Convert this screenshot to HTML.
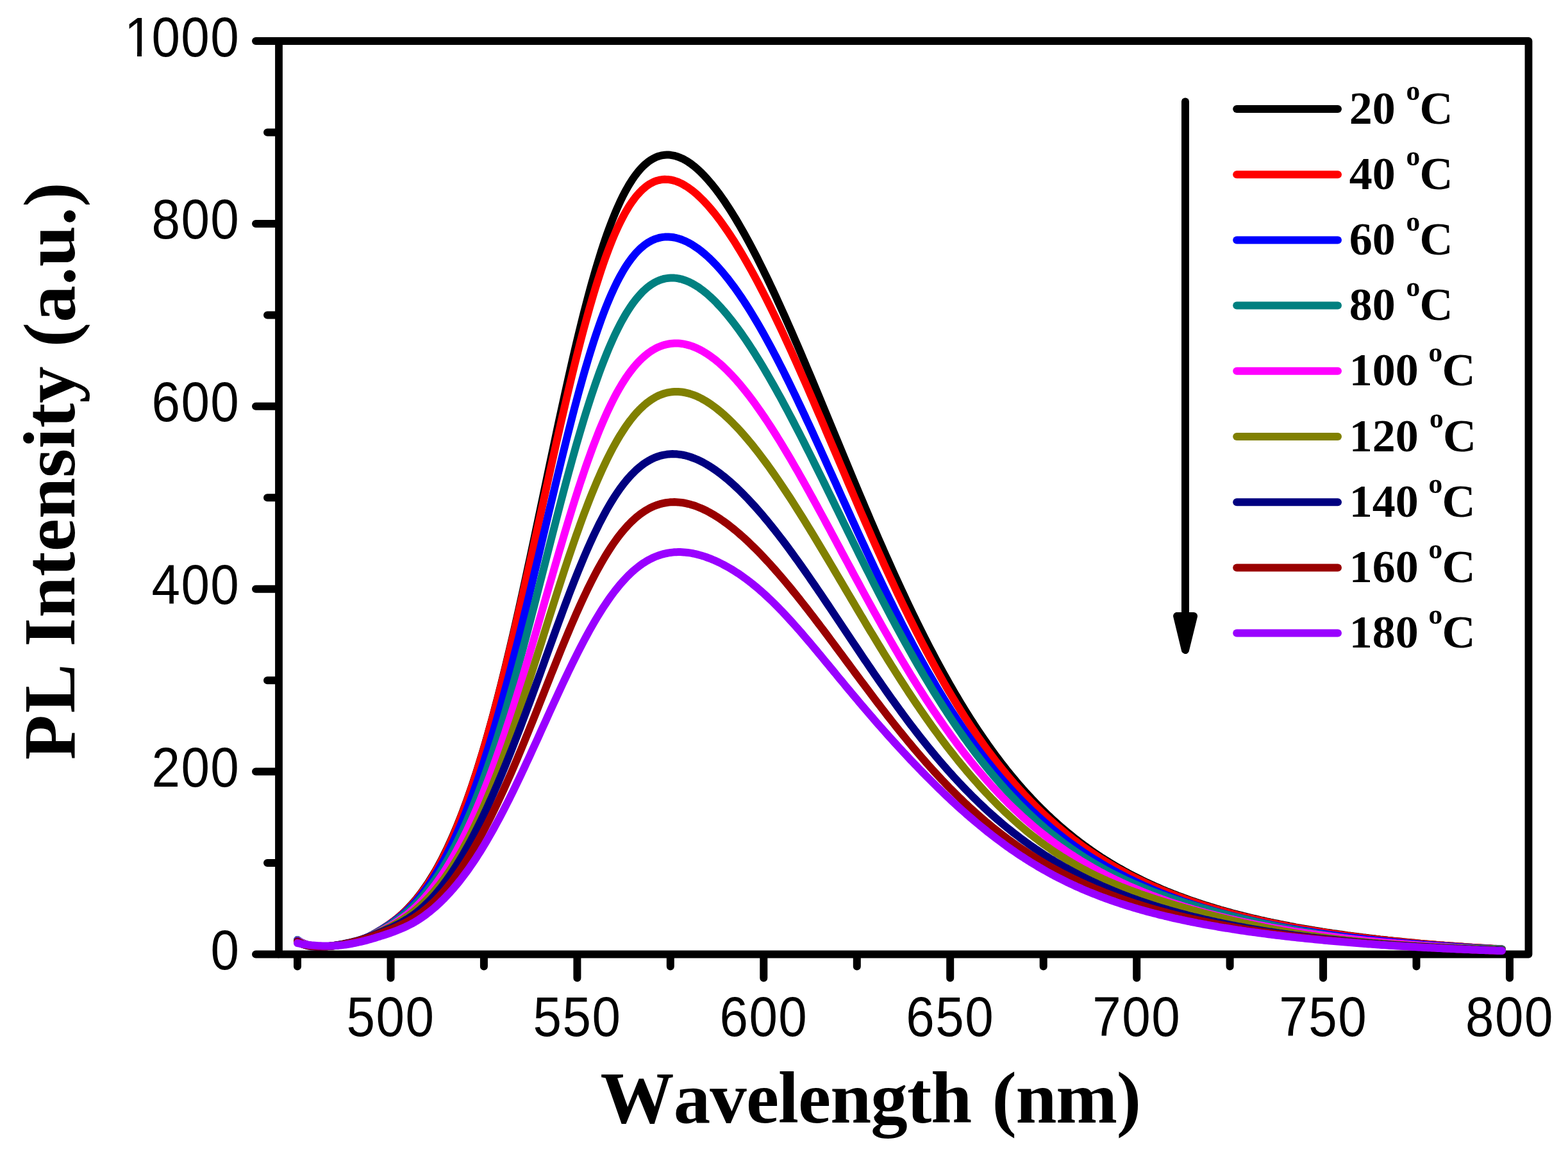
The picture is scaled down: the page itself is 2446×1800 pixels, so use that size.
<!DOCTYPE html>
<html lang="en"><head><meta charset="utf-8"><title>Temperature-dependent PL spectra</title>
<style>html,body{margin:0;padding:0;background:#fff;}svg{display:block;}text{font-kerning:none;fill:#000;white-space:pre;}.tk{font-family:"Liberation Sans",sans-serif;font-size:80px;letter-spacing:1.5px;}.ttl{font-family:"Liberation Serif",serif;font-weight:bold;font-size:115px;}.lg{font-family:"Liberation Serif",serif;font-weight:bold;font-size:72px;}.sup{font-size:43.5px;}</style></head><body>
<svg width="2446" height="1800" viewBox="0 0 2446 1800">
<rect width="2446" height="1800" fill="#fff"/>
<g stroke="#000" stroke-width="12" stroke-linecap="round" stroke-linejoin="round" fill="none">
<path d="M435.0,64.0H2384.5V1488.5H435.0Z" stroke-width="11.8"/>
<path d="M399,1488.5H434.0M417,1346H434.0M399,1203.6H434.0M417,1061.2H434.0M399,918.7H434.0M417,776.2H434.0M399,633.8H434.0M417,491.4H434.0M399,348.9H434.0M417,206.5H434.0M399,64H434.0M464,1489.5V1507.5M609.5,1489.5V1525.5M754.9,1489.5V1507.5M900.4,1489.5V1525.5M1045.8,1489.5V1507.5M1191.3,1489.5V1525.5M1336.8,1489.5V1507.5M1482.2,1489.5V1525.5M1627.7,1489.5V1507.5M1773.2,1489.5V1525.5M1918.6,1489.5V1507.5M2064.1,1489.5V1525.5M2209.5,1489.5V1507.5M2355,1489.5V1525.5"/>
</g>
<g fill="none" stroke-width="12" stroke-linecap="round" stroke-linejoin="round">
<path stroke="#000000" d="M464,1467L467,1468.8 470,1470.3 473,1471.5 476,1472.6 479,1473.6 482,1474.3 485,1475 488,1475.5 491,1475.9 494,1476.1 497,1476.3 500,1476.4 503,1476.4 506,1476.4 509,1476.2 512,1476 515,1475.8 518,1475.4 521,1475.1 524,1474.7 527,1474.3 530,1473.9 533,1473.5 536,1473 539,1472.5 542,1471.9 545,1471.5 548,1471 551,1470.5 554,1469.9 557,1469.1 560,1468.2 563,1467.1 566,1465.9 569,1464.6 572,1463.2 575,1461.8 578,1460.3 581,1458.6 584,1456.9 587,1455.1 590,1453.2 593,1451.3 596,1449.5 599,1447.5 602,1445.5 605,1443.4 608,1441.3 611,1439.1 614,1436.9 617,1434.5 620,1432.1 623,1429.5 626,1426.9 629,1424.1 632,1421.2 635,1418.3 638,1415.1 641,1411.9 644,1408.6 647,1405.1 650,1401.5 653,1397.7 656,1393.8 659,1389.8 662,1385.6 665,1381.3 668,1376.8 671,1372.1 674,1367.3 677,1362.3 680,1357.2 683,1351.9 686,1346.4 689,1340.7 692,1334.8 695,1328.8 698,1322.6 701,1316.1 704,1309.5 707,1302.7 710,1295.7 713,1288.5 716,1281.1 719,1273.5 722,1265.7 725,1257.7 728,1249.5 731,1241.1 734,1232.4 737,1223.6 740,1214.5 743,1205.3 746,1195.8 749,1186.1 752,1176.3 755,1166.2 758,1155.9 761,1145.4 764,1134.7 767,1123.8 770,1112.7 773,1101.4 776,1089.9 779,1078.2 782,1066.4 785,1054.3 788,1042.1 791,1029.7 794,1017.1 797,1004.4 800,991.5 803,978.5 806,965.3 809,952 812,938.6 815,925 818,911.3 821,897.5 824,883.6 827,869.7 830,855.6 833,841.5 836,827.3 839,813.1 842,798.8 845,784.5 848,770.2 851,755.9 854,741.6 857,727.3 860,713.1 863,698.9 866,684.7 869,670.6 872,656.6 875,642.7 878,628.9 881,615.2 884,601.7 887,588.2 890,575 893,561.9 896,548.9 899,536.2 902,523.7 905,511.3 908,499.2 911,487.3 914,475.7 917,464.3 920,453.1 923,442.2 926,431.6 929,421.2 932,411.2 935,401.4 938,391.9 941,382.6 944,373.7 947,365.1 950,356.8 953,348.8 956,341.1 959,333.7 962,326.6 965,319.8 968,313.3 971,307.1 974,301.3 977,295.7 980,290.4 983,285.4 986,280.7 989,276.3 992,272.2 995,268.4 998,264.8 1001,261.5 1004,258.5 1007,255.8 1010,253.3 1013,251 1016,249.1 1019,247.3 1022,245.8 1025,244.5 1028,243.5 1031,242.7 1034,242.1 1037,241.7 1040,241.6 1043,241.6 1046,241.8 1049,242.3 1052,242.9 1055,243.7 1058,244.7 1061,245.9 1064,247.2 1067,248.7 1070,250.4 1073,252.2 1076,254.2 1079,256.4 1082,258.7 1085,261.2 1088,263.8 1091,266.5 1094,269.4 1097,272.4 1100,275.6 1103,278.8 1106,282.3 1109,285.8 1112,289.5 1115,293.2 1118,297.1 1121,301.1 1124,305.3 1127,309.5 1130,313.8 1133,318.3 1136,322.8 1139,327.5 1142,332.2 1145,337.1 1148,342 1151,347.1 1154,352.2 1157,357.4 1160,362.7 1163,368.1 1166,373.6 1169,379.1 1172,384.8 1175,390.5 1178,396.3 1181,402.1 1184,408.1 1187,414.1 1190,420.1 1193,426.3 1196,432.4 1199,438.7 1202,445 1205,451.4 1208,457.8 1211,464.3 1214,470.9 1217,477.4 1220,484.1 1223,490.8 1226,497.5 1229,504.3 1232,511.1 1235,517.9 1238,524.8 1241,531.8 1244,538.7 1247,545.7 1250,552.7 1253,559.8 1256,566.9 1259,574 1262,581.1 1265,588.2 1268,595.4 1271,602.6 1274,609.8 1277,617 1280,624.2 1283,631.5 1286,638.7 1289,646 1292,653.2 1295,660.5 1298,667.8 1301,675 1304,682.3 1307,689.6 1310,696.8 1313,704.1 1316,711.3 1319,718.6 1322,725.8 1325,733.1 1328,740.3 1331,747.5 1334,754.7 1337,761.8 1340,769 1343,776.1 1346,783.2 1349,790.3 1352,797.4 1355,804.4 1358,811.5 1361,818.4 1364,825.4 1367,832.4 1370,839.3 1373,846.1 1376,853 1379,859.8 1382,866.6 1385,873.3 1388,880 1391,886.7 1394,893.4 1397,899.9 1400,906.5 1403,913 1406,919.5 1409,925.9 1412,932.3 1415,938.7 1418,945 1421,951.3 1424,957.5 1427,963.7 1430,969.8 1433,975.9 1436,981.9 1439,987.9 1442,993.9 1445,999.7 1448,1005.6 1451,1011.4 1454,1017.1 1457,1022.8 1460,1028.5 1463,1034.1 1466,1039.6 1469,1045.1 1472,1050.6 1475,1056 1478,1061.3 1481,1066.6 1484,1071.8 1487,1077 1490,1082.2 1493,1087.2 1496,1092.3 1499,1097.3 1502,1102.2 1505,1107.1 1508,1111.9 1511,1116.7 1514,1121.4 1517,1126.1 1520,1130.7 1523,1135.3 1526,1139.8 1529,1144.2 1532,1148.7 1535,1153 1538,1157.3 1541,1161.6 1544,1165.8 1547,1170 1550,1174.1 1553,1178.2 1556,1182.2 1559,1186.2 1562,1190.1 1565,1194 1568,1197.8 1571,1201.6 1574,1205.3 1577,1209 1580,1212.6 1583,1216.2 1586,1219.8 1589,1223.3 1592,1226.7 1595,1230.2 1598,1233.5 1601,1236.9 1604,1240.1 1607,1243.4 1610,1246.6 1613,1249.7 1616,1252.8 1619,1255.9 1622,1259 1625,1262 1628,1264.9 1631,1267.8 1634,1270.7 1637,1273.5 1640,1276.3 1643,1279.1 1646,1281.8 1649,1284.5 1652,1287.2 1655,1289.8 1658,1292.4 1661,1294.9 1664,1297.4 1667,1299.9 1670,1302.3 1673,1304.7 1676,1307.1 1679,1309.5 1682,1311.8 1685,1314 1688,1316.3 1691,1318.5 1694,1320.7 1697,1322.9 1700,1325 1703,1327.1 1706,1329.2 1709,1331.2 1712,1333.2 1715,1335.2 1718,1337.2 1721,1339.1 1724,1341 1727,1342.9 1730,1344.7 1733,1346.6 1736,1348.4 1739,1350.2 1742,1351.9 1745,1353.6 1748,1355.3 1751,1357 1754,1358.7 1757,1360.3 1760,1362 1763,1363.6 1766,1365.1 1769,1366.7 1772,1368.2 1775,1369.7 1778,1371.2 1781,1372.7 1784,1374.1 1787,1375.6 1790,1377 1793,1378.4 1796,1379.8 1799,1381.1 1802,1382.5 1805,1383.8 1808,1385.1 1811,1386.4 1814,1387.7 1817,1388.9 1820,1390.2 1823,1391.4 1826,1392.6 1829,1393.8 1832,1395 1835,1396.1 1838,1397.3 1841,1398.4 1844,1399.5 1847,1400.6 1850,1401.7 1853,1402.8 1856,1403.9 1859,1404.9 1862,1405.9 1865,1407 1868,1408 1871,1409 1874,1410 1877,1410.9 1880,1411.9 1883,1412.8 1886,1413.8 1889,1414.7 1892,1415.6 1895,1416.5 1898,1417.4 1901,1418.3 1904,1419.2 1907,1420 1910,1420.9 1913,1421.7 1916,1422.6 1919,1423.4 1922,1424.2 1925,1425 1928,1425.8 1931,1426.6 1934,1427.3 1937,1428.1 1940,1428.9 1943,1429.6 1946,1430.3 1949,1431.1 1952,1431.8 1955,1432.5 1958,1433.2 1961,1433.9 1964,1434.6 1967,1435.3 1970,1435.9 1973,1436.6 1976,1437.3 1979,1437.9 1982,1438.6 1985,1439.2 1988,1439.8 1991,1440.4 1994,1441 1997,1441.7 2000,1442.2 2003,1442.8 2006,1443.4 2009,1444 2012,1444.6 2015,1445.1 2018,1445.7 2021,1446.3 2024,1446.8 2027,1447.3 2030,1447.9 2033,1448.4 2036,1448.9 2039,1449.4 2042,1450 2045,1450.5 2048,1451 2051,1451.5 2054,1451.9 2057,1452.4 2060,1452.9 2063,1453.4 2066,1453.8 2069,1454.3 2072,1454.8 2075,1455.2 2078,1455.7 2081,1456.1 2084,1456.5 2087,1457 2090,1457.4 2093,1457.8 2096,1458.2 2099,1458.6 2102,1459.1 2105,1459.5 2108,1459.9 2111,1460.3 2114,1460.6 2117,1461 2120,1461.4 2123,1461.8 2126,1462.2 2129,1462.5 2132,1462.9 2135,1463.3 2138,1463.6 2141,1464 2144,1464.3 2147,1464.7 2150,1465 2153,1465.4 2156,1465.7 2159,1466 2162,1466.3 2165,1466.7 2168,1467 2171,1467.3 2174,1467.6 2177,1467.9 2180,1468.2 2183,1468.5 2186,1468.8 2189,1469.1 2192,1469.4 2195,1469.7 2198,1470 2201,1470.3 2204,1470.6 2207,1470.8 2210,1471.1 2213,1471.4 2216,1471.7 2219,1471.9 2222,1472.2 2225,1472.4 2228,1472.7 2231,1473 2234,1473.2 2237,1473.4 2240,1473.7 2243,1473.9 2246,1474.2 2249,1474.4 2252,1474.6 2255,1474.9 2258,1475.1 2261,1475.3 2264,1475.6 2267,1475.8 2270,1476 2273,1476.2 2276,1476.4 2279,1476.6 2282,1476.8 2285,1477.1 2288,1477.3 2291,1477.5 2294,1477.7 2297,1477.9 2300,1478.1 2303,1478.2 2306,1478.4 2309,1478.6 2312,1478.8 2315,1479 2318,1479.2 2321,1479.4 2324,1479.5 2327,1479.7 2330,1479.9 2333,1480.1 2336,1480.2 2339,1480.4 2342,1480.6 2343,1480.6"/>
<path stroke="#FF0000" d="M464,1467L467,1469 470,1470.6 473,1472 476,1473.1 479,1474.1 482,1474.9 485,1475.5 488,1475.9 491,1476.3 494,1476.5 497,1476.6 500,1476.7 503,1476.6 506,1476.5 509,1476.3 512,1476.1 515,1475.8 518,1475.4 521,1475 524,1474.5 527,1474.1 530,1473.6 533,1473.1 536,1472.6 539,1472.1 542,1471.5 545,1470.9 548,1470.4 551,1469.8 554,1469.1 557,1468.3 560,1467.4 563,1466.3 566,1465.1 569,1463.8 572,1462.5 575,1461.1 578,1459.6 581,1458 584,1456.3 587,1454.5 590,1452.7 593,1450.9 596,1449.1 599,1447.2 602,1445.2 605,1443.2 608,1441.1 611,1439 614,1436.8 617,1434.6 620,1432.2 623,1429.7 626,1427.1 629,1424.4 632,1421.6 635,1418.7 638,1415.7 641,1412.6 644,1409.3 647,1405.8 650,1402.3 653,1398.6 656,1394.7 659,1390.7 662,1386.6 665,1382.3 668,1377.8 671,1373.2 674,1368.4 677,1363.5 680,1358.3 683,1353 686,1347.5 689,1341.9 692,1336 695,1329.9 698,1323.7 701,1317.3 704,1310.6 707,1303.8 710,1296.8 713,1289.6 716,1282.1 719,1274.5 722,1266.7 725,1258.6 728,1250.4 731,1241.9 734,1233.2 737,1224.4 740,1215.3 743,1206 746,1196.5 749,1186.8 752,1176.9 755,1166.9 758,1156.6 761,1146.1 764,1135.4 767,1124.6 770,1113.6 773,1102.4 776,1091 779,1079.4 782,1067.7 785,1055.8 788,1043.8 791,1031.6 794,1019.3 797,1006.8 800,994.2 803,981.5 806,968.6 809,955.7 812,942.6 815,929.4 818,916.2 821,902.9 824,889.5 827,876 830,862.5 833,848.9 836,835.3 839,821.7 842,808.1 845,794.4 848,780.7 851,767.1 854,753.5 857,739.9 860,726.3 863,712.8 866,699.3 869,685.9 872,672.6 875,659.4 878,646.3 881,633.3 884,620.5 887,607.7 890,595.1 893,582.7 896,570.4 899,558.3 902,546.4 905,534.6 908,523.1 911,511.8 914,500.7 917,489.8 920,479.2 923,468.8 926,458.6 929,448.7 932,439.1 935,429.8 938,420.7 941,411.9 944,403.3 947,395.1 950,387.1 953,379.5 956,372.1 959,365 962,358.3 965,351.8 968,345.6 971,339.7 974,334.1 977,328.8 980,323.8 983,319.1 986,314.7 989,310.6 992,306.7 995,303.2 998,299.9 1001,296.8 1004,294.1 1007,291.6 1010,289.3 1013,287.3 1016,285.6 1019,284.1 1022,282.8 1025,281.8 1028,281 1031,280.4 1034,280 1037,279.8 1040,279.9 1043,280.1 1046,280.5 1049,281.1 1052,281.9 1055,282.9 1058,284 1061,285.4 1064,286.8 1067,288.5 1070,290.3 1073,292.2 1076,294.3 1079,296.5 1082,298.9 1085,301.4 1088,304 1091,306.8 1094,309.7 1097,312.7 1100,315.9 1103,319.1 1106,322.5 1109,326 1112,329.6 1115,333.3 1118,337.1 1121,341 1124,345 1127,349.2 1130,353.4 1133,357.7 1136,362.1 1139,366.6 1142,371.2 1145,375.8 1148,380.6 1151,385.5 1154,390.4 1157,395.4 1160,400.5 1163,405.7 1166,410.9 1169,416.2 1172,421.6 1175,427.1 1178,432.6 1181,438.3 1184,443.9 1187,449.7 1190,455.5 1193,461.4 1196,467.3 1199,473.3 1202,479.3 1205,485.5 1208,491.6 1211,497.8 1214,504.1 1217,510.4 1220,516.8 1223,523.2 1226,529.7 1229,536.2 1232,542.7 1235,549.3 1238,555.9 1241,562.6 1244,569.3 1247,576 1250,582.8 1253,589.6 1256,596.4 1259,603.2 1262,610.1 1265,617 1268,623.9 1271,630.8 1274,637.8 1277,644.8 1280,651.7 1283,658.7 1286,665.7 1289,672.8 1292,679.8 1295,686.8 1298,693.8 1301,700.9 1304,707.9 1307,714.9 1310,722 1313,729 1316,736 1319,743 1322,750.1 1325,757.1 1328,764 1331,771 1334,778 1337,784.9 1340,791.9 1343,798.8 1346,805.7 1349,812.5 1352,819.4 1355,826.2 1358,833 1361,839.8 1364,846.6 1367,853.3 1370,860 1373,866.6 1376,873.3 1379,879.9 1382,886.4 1385,893 1388,899.5 1391,905.9 1394,912.3 1397,918.7 1400,925.1 1403,931.4 1406,937.6 1409,943.9 1412,950 1415,956.2 1418,962.3 1421,968.3 1424,974.3 1427,980.3 1430,986.2 1433,992.1 1436,997.9 1439,1003.7 1442,1009.4 1445,1015.1 1448,1020.7 1451,1026.3 1454,1031.9 1457,1037.4 1460,1042.8 1463,1048.2 1466,1053.5 1469,1058.8 1472,1064.1 1475,1069.2 1478,1074.4 1481,1079.5 1484,1084.5 1487,1089.5 1490,1094.4 1493,1099.3 1496,1104.2 1499,1108.9 1502,1113.7 1505,1118.4 1508,1123 1511,1127.6 1514,1132.1 1517,1136.6 1520,1141 1523,1145.4 1526,1149.8 1529,1154 1532,1158.3 1535,1162.5 1538,1166.6 1541,1170.7 1544,1174.7 1547,1178.7 1550,1182.7 1553,1186.6 1556,1190.4 1559,1194.2 1562,1198 1565,1201.7 1568,1205.4 1571,1209 1574,1212.6 1577,1216.1 1580,1219.6 1583,1223.1 1586,1226.5 1589,1229.8 1592,1233.2 1595,1236.4 1598,1239.7 1601,1242.9 1604,1246 1607,1249.1 1610,1252.2 1613,1255.2 1616,1258.2 1619,1261.2 1622,1264.1 1625,1267 1628,1269.8 1631,1272.6 1634,1275.4 1637,1278.1 1640,1280.8 1643,1283.5 1646,1286.1 1649,1288.7 1652,1291.2 1655,1293.7 1658,1296.2 1661,1298.7 1664,1301.1 1667,1303.5 1670,1305.8 1673,1308.2 1676,1310.5 1679,1312.7 1682,1315 1685,1317.2 1688,1319.3 1691,1321.5 1694,1323.6 1697,1325.7 1700,1327.8 1703,1329.8 1706,1331.8 1709,1333.8 1712,1335.7 1715,1337.7 1718,1339.6 1721,1341.4 1724,1343.3 1727,1345.1 1730,1346.9 1733,1348.7 1736,1350.5 1739,1352.2 1742,1353.9 1745,1355.6 1748,1357.3 1751,1358.9 1754,1360.5 1757,1362.1 1760,1363.7 1763,1365.3 1766,1366.8 1769,1368.3 1772,1369.8 1775,1371.3 1778,1372.8 1781,1374.2 1784,1375.7 1787,1377.1 1790,1378.5 1793,1379.8 1796,1381.2 1799,1382.5 1802,1383.8 1805,1385.1 1808,1386.4 1811,1387.7 1814,1388.9 1817,1390.2 1820,1391.4 1823,1392.6 1826,1393.8 1829,1395 1832,1396.1 1835,1397.3 1838,1398.4 1841,1399.5 1844,1400.6 1847,1401.7 1850,1402.8 1853,1403.9 1856,1404.9 1859,1406 1862,1407 1865,1408 1868,1409 1871,1410 1874,1411 1877,1411.9 1880,1412.9 1883,1413.8 1886,1414.8 1889,1415.7 1892,1416.6 1895,1417.5 1898,1418.4 1901,1419.2 1904,1420.1 1907,1421 1910,1421.8 1913,1422.6 1916,1423.5 1919,1424.3 1922,1425.1 1925,1425.9 1928,1426.7 1931,1427.5 1934,1428.2 1937,1429 1940,1429.7 1943,1430.5 1946,1431.2 1949,1431.9 1952,1432.6 1955,1433.3 1958,1434 1961,1434.7 1964,1435.4 1967,1436.1 1970,1436.8 1973,1437.4 1976,1438.1 1979,1438.7 1982,1439.3 1985,1440 1988,1440.6 1991,1441.2 1994,1441.8 1997,1442.4 2000,1443 2003,1443.6 2006,1444.2 2009,1444.8 2012,1445.3 2015,1445.9 2018,1446.4 2021,1447 2024,1447.5 2027,1448.1 2030,1448.6 2033,1449.1 2036,1449.6 2039,1450.1 2042,1450.6 2045,1451.1 2048,1451.6 2051,1452.1 2054,1452.6 2057,1453.1 2060,1453.6 2063,1454 2066,1454.5 2069,1454.9 2072,1455.4 2075,1455.8 2078,1456.3 2081,1456.7 2084,1457.1 2087,1457.6 2090,1458 2093,1458.4 2096,1458.8 2099,1459.2 2102,1459.6 2105,1460 2108,1460.4 2111,1460.8 2114,1461.2 2117,1461.5 2120,1461.9 2123,1462.3 2126,1462.7 2129,1463 2132,1463.4 2135,1463.7 2138,1464.1 2141,1464.4 2144,1464.8 2147,1465.1 2150,1465.4 2153,1465.8 2156,1466.1 2159,1466.4 2162,1466.7 2165,1467 2168,1467.3 2171,1467.7 2174,1468 2177,1468.3 2180,1468.6 2183,1468.8 2186,1469.1 2189,1469.4 2192,1469.7 2195,1470 2198,1470.3 2201,1470.5 2204,1470.8 2207,1471.1 2210,1471.3 2213,1471.6 2216,1471.9 2219,1472.1 2222,1472.4 2225,1472.6 2228,1472.9 2231,1473.1 2234,1473.3 2237,1473.6 2240,1473.8 2243,1474 2246,1474.3 2249,1474.5 2252,1474.7 2255,1474.9 2258,1475.2 2261,1475.4 2264,1475.6 2267,1475.8 2270,1476 2273,1476.2 2276,1476.4 2279,1476.6 2282,1476.8 2285,1477 2288,1477.2 2291,1477.4 2294,1477.6 2297,1477.8 2300,1477.9 2303,1478.1 2306,1478.3 2309,1478.5 2312,1478.7 2315,1478.8 2318,1479 2321,1479.2 2324,1479.3 2327,1479.5 2330,1479.7 2333,1479.8 2336,1480 2339,1480.2 2342,1480.3 2343,1480.4"/>
<path stroke="#0000FF" d="M464,1466L467,1468.1 470,1469.8 473,1471.3 476,1472.5 479,1473.5 482,1474.4 485,1475 488,1475.6 491,1476 494,1476.2 497,1476.4 500,1476.5 503,1476.5 506,1476.4 509,1476.2 512,1476 515,1475.7 518,1475.4 521,1475 524,1474.6 527,1474.2 530,1473.7 533,1473.2 536,1472.7 539,1472.1 542,1471.5 545,1470.9 548,1470.3 551,1469.7 554,1469 557,1468.2 560,1467.2 563,1466.1 566,1465 569,1463.7 572,1462.4 575,1461 578,1459.6 581,1458 584,1456.3 587,1454.6 590,1452.9 593,1451.1 596,1449.4 599,1447.5 602,1445.7 605,1443.7 608,1441.7 611,1439.7 614,1437.6 617,1435.4 620,1433.1 623,1430.8 626,1428.3 629,1425.7 632,1423.1 635,1420.3 638,1417.4 641,1414.5 644,1411.3 647,1408.1 650,1404.7 653,1401.2 656,1397.6 659,1393.8 662,1389.9 665,1385.9 668,1381.7 671,1377.3 674,1372.8 677,1368.2 680,1363.4 683,1358.4 686,1353.3 689,1348 692,1342.6 695,1337 698,1331.2 701,1325.2 704,1319.1 707,1312.8 710,1306.3 713,1299.7 716,1292.8 719,1285.8 722,1278.6 725,1271.2 728,1263.7 731,1256 734,1248 737,1239.9 740,1231.6 743,1223.2 746,1214.5 749,1205.7 752,1196.7 755,1187.5 758,1178.2 761,1168.7 764,1159 767,1149.1 770,1139.1 773,1128.9 776,1118.5 779,1108 782,1097.3 785,1086.5 788,1075.6 791,1064.5 794,1053.2 797,1041.8 800,1030.3 803,1018.7 806,1007 809,995.1 812,983.1 815,971.1 818,958.9 821,946.7 824,934.3 827,921.9 830,909.5 833,896.9 836,884.4 839,871.8 842,859.1 845,846.4 848,833.7 851,821.1 854,808.4 857,795.7 860,783.1 863,770.5 866,757.9 869,745.4 872,733 875,720.6 878,708.3 881,696.2 884,684.1 887,672.2 890,660.4 893,648.8 896,637.3 899,626 902,614.8 905,603.9 908,593.1 911,582.5 914,572.2 917,562.1 920,552.2 923,542.6 926,533.1 929,524 932,515.1 935,506.5 938,498.1 941,490 944,482.2 947,474.6 950,467.4 953,460.4 956,453.7 959,447.3 962,441.1 965,435.3 968,429.7 971,424.4 974,419.3 977,414.6 980,410.1 983,405.9 986,401.9 989,398.2 992,394.7 995,391.5 998,388.5 1001,385.8 1004,383.3 1007,381 1010,379 1013,377.2 1016,375.5 1019,374.1 1022,372.9 1025,371.9 1028,371 1031,370.4 1034,369.9 1037,369.6 1040,369.5 1043,369.5 1046,369.7 1049,370 1052,370.5 1055,371.2 1058,372 1061,372.9 1064,374 1067,375.2 1070,376.5 1073,378 1076,379.6 1079,381.3 1082,383.2 1085,385.2 1088,387.2 1091,389.4 1094,391.8 1097,394.2 1100,396.7 1103,399.4 1106,402.1 1109,405 1112,408 1115,411.1 1118,414.2 1121,417.5 1124,420.9 1127,424.4 1130,428 1133,431.7 1136,435.4 1139,439.3 1142,443.3 1145,447.3 1148,451.5 1151,455.7 1154,460.1 1157,464.5 1160,469 1163,473.6 1166,478.3 1169,483 1172,487.9 1175,492.8 1178,497.8 1181,502.8 1184,508 1187,513.2 1190,518.5 1193,523.9 1196,529.3 1199,534.8 1202,540.3 1205,546 1208,551.7 1211,557.4 1214,563.2 1217,569.1 1220,575 1223,580.9 1226,587 1229,593 1232,599.1 1235,605.3 1238,611.5 1241,617.7 1244,624 1247,630.3 1250,636.6 1253,643 1256,649.4 1259,655.9 1262,662.3 1265,668.8 1268,675.3 1271,681.9 1274,688.4 1277,695 1280,701.6 1283,708.2 1286,714.8 1289,721.4 1292,728.1 1295,734.7 1298,741.3 1301,748 1304,754.6 1307,761.3 1310,767.9 1313,774.6 1316,781.2 1319,787.8 1322,794.5 1325,801.1 1328,807.7 1331,814.3 1334,820.8 1337,827.4 1340,833.9 1343,840.5 1346,847 1349,853.4 1352,859.9 1355,866.3 1358,872.8 1361,879.1 1364,885.5 1367,891.8 1370,898.1 1373,904.4 1376,910.6 1379,916.8 1382,923 1385,929.2 1388,935.3 1391,941.3 1394,947.4 1397,953.4 1400,959.3 1403,965.2 1406,971.1 1409,976.9 1412,982.7 1415,988.5 1418,994.2 1421,999.9 1424,1005.5 1427,1011.1 1430,1016.6 1433,1022.1 1436,1027.6 1439,1033 1442,1038.3 1445,1043.6 1448,1048.9 1451,1054.1 1454,1059.3 1457,1064.4 1460,1069.5 1463,1074.5 1466,1079.5 1469,1084.4 1472,1089.3 1475,1094.2 1478,1099 1481,1103.7 1484,1108.4 1487,1113 1490,1117.6 1493,1122.2 1496,1126.7 1499,1131.2 1502,1135.6 1505,1139.9 1508,1144.3 1511,1148.5 1514,1152.7 1517,1156.9 1520,1161.1 1523,1165.1 1526,1169.2 1529,1173.2 1532,1177.1 1535,1181 1538,1184.9 1541,1188.7 1544,1192.4 1547,1196.2 1550,1199.8 1553,1203.5 1556,1207.1 1559,1210.6 1562,1214.1 1565,1217.6 1568,1221 1571,1224.4 1574,1227.7 1577,1231 1580,1234.3 1583,1237.5 1586,1240.7 1589,1243.8 1592,1246.9 1595,1250 1598,1253 1601,1256 1604,1258.9 1607,1261.8 1610,1264.7 1613,1267.5 1616,1270.3 1619,1273.1 1622,1275.8 1625,1278.5 1628,1281.2 1631,1283.8 1634,1286.4 1637,1288.9 1640,1291.5 1643,1294 1646,1296.4 1649,1298.9 1652,1301.3 1655,1303.6 1658,1306 1661,1308.3 1664,1310.5 1667,1312.8 1670,1315 1673,1317.2 1676,1319.4 1679,1321.5 1682,1323.6 1685,1325.7 1688,1327.7 1691,1329.8 1694,1331.7 1697,1333.7 1700,1335.7 1703,1337.6 1706,1339.5 1709,1341.4 1712,1343.2 1715,1345 1718,1346.8 1721,1348.6 1724,1350.4 1727,1352.1 1730,1353.8 1733,1355.5 1736,1357.2 1739,1358.8 1742,1360.4 1745,1362.1 1748,1363.6 1751,1365.2 1754,1366.7 1757,1368.3 1760,1369.8 1763,1371.3 1766,1372.7 1769,1374.2 1772,1375.6 1775,1377 1778,1378.4 1781,1379.8 1784,1381.2 1787,1382.5 1790,1383.8 1793,1385.1 1796,1386.4 1799,1387.7 1802,1389 1805,1390.2 1808,1391.4 1811,1392.7 1814,1393.9 1817,1395 1820,1396.2 1823,1397.4 1826,1398.5 1829,1399.6 1832,1400.7 1835,1401.8 1838,1402.9 1841,1404 1844,1405.1 1847,1406.1 1850,1407.1 1853,1408.2 1856,1409.2 1859,1410.2 1862,1411.2 1865,1412.1 1868,1413.1 1871,1414 1874,1415 1877,1415.9 1880,1416.8 1883,1417.7 1886,1418.6 1889,1419.5 1892,1420.4 1895,1421.2 1898,1422.1 1901,1422.9 1904,1423.8 1907,1424.6 1910,1425.4 1913,1426.2 1916,1427 1919,1427.8 1922,1428.5 1925,1429.3 1928,1430.1 1931,1430.8 1934,1431.5 1937,1432.3 1940,1433 1943,1433.7 1946,1434.4 1949,1435.1 1952,1435.8 1955,1436.5 1958,1437.1 1961,1437.8 1964,1438.5 1967,1439.1 1970,1439.7 1973,1440.4 1976,1441 1979,1441.6 1982,1442.2 1985,1442.8 1988,1443.4 1991,1444 1994,1444.6 1997,1445.2 2000,1445.7 2003,1446.3 2006,1446.9 2009,1447.4 2012,1447.9 2015,1448.5 2018,1449 2021,1449.5 2024,1450 2027,1450.6 2030,1451.1 2033,1451.6 2036,1452 2039,1452.5 2042,1453 2045,1453.5 2048,1454 2051,1454.4 2054,1454.9 2057,1455.3 2060,1455.8 2063,1456.2 2066,1456.7 2069,1457.1 2072,1457.5 2075,1457.9 2078,1458.4 2081,1458.8 2084,1459.2 2087,1459.6 2090,1460 2093,1460.4 2096,1460.8 2099,1461.1 2102,1461.5 2105,1461.9 2108,1462.3 2111,1462.6 2114,1463 2117,1463.3 2120,1463.7 2123,1464 2126,1464.4 2129,1464.7 2132,1465.1 2135,1465.4 2138,1465.7 2141,1466 2144,1466.4 2147,1466.7 2150,1467 2153,1467.3 2156,1467.6 2159,1467.9 2162,1468.2 2165,1468.5 2168,1468.8 2171,1469.1 2174,1469.4 2177,1469.6 2180,1469.9 2183,1470.2 2186,1470.5 2189,1470.7 2192,1471 2195,1471.2 2198,1471.5 2201,1471.8 2204,1472 2207,1472.3 2210,1472.5 2213,1472.7 2216,1473 2219,1473.2 2222,1473.4 2225,1473.7 2228,1473.9 2231,1474.1 2234,1474.3 2237,1474.6 2240,1474.8 2243,1475 2246,1475.2 2249,1475.4 2252,1475.6 2255,1475.8 2258,1476 2261,1476.2 2264,1476.4 2267,1476.6 2270,1476.8 2273,1477 2276,1477.2 2279,1477.3 2282,1477.5 2285,1477.7 2288,1477.9 2291,1478.1 2294,1478.2 2297,1478.4 2300,1478.6 2303,1478.7 2306,1478.9 2309,1479.1 2312,1479.2 2315,1479.4 2318,1479.5 2321,1479.7 2324,1479.8 2327,1480 2330,1480.1 2333,1480.3 2336,1480.4 2339,1480.6 2342,1480.7 2343,1480.8"/>
<path stroke="#008080" d="M464,1466L467,1468.2 470,1470.1 473,1471.6 476,1472.8 479,1473.8 482,1474.7 485,1475.3 488,1475.8 491,1476.1 494,1476.4 497,1476.5 500,1476.6 503,1476.5 506,1476.4 509,1476.3 512,1476.1 515,1475.8 518,1475.4 521,1475.1 524,1474.7 527,1474.2 530,1473.8 533,1473.3 536,1472.7 539,1472.1 542,1471.5 545,1470.9 548,1470.3 551,1469.6 554,1468.9 557,1468.1 560,1467.1 563,1466.1 566,1464.9 569,1463.7 572,1462.5 575,1461.1 578,1459.7 581,1458.2 584,1456.6 587,1455 590,1453.3 593,1451.6 596,1449.9 599,1448.1 602,1446.3 605,1444.5 608,1442.6 611,1440.7 614,1438.7 617,1436.6 620,1434.4 623,1432.2 626,1429.8 629,1427.4 632,1425 635,1422.4 638,1419.7 641,1417 644,1414.1 647,1411.1 650,1408 653,1404.7 656,1401.4 659,1397.9 662,1394.4 665,1390.7 668,1386.8 671,1382.9 674,1378.8 677,1374.6 680,1370.3 683,1365.8 686,1361.2 689,1356.5 692,1351.6 695,1346.6 698,1341.4 701,1336.1 704,1330.6 707,1324.9 710,1319.2 713,1313.2 716,1307.1 719,1300.9 722,1294.4 725,1287.9 728,1281.1 731,1274.2 734,1267.1 737,1259.9 740,1252.4 743,1244.8 746,1237.1 749,1229.2 752,1221 755,1212.8 758,1204.3 761,1195.7 764,1186.9 767,1178 770,1168.9 773,1159.6 776,1150.2 779,1140.6 782,1130.8 785,1120.9 788,1110.9 791,1100.7 794,1090.4 797,1079.9 800,1069.3 803,1058.6 806,1047.8 809,1036.8 812,1025.7 815,1014.6 818,1003.3 821,992 824,980.5 827,969.1 830,957.5 833,945.9 836,934.2 839,922.5 842,910.8 845,899 848,887.2 851,875.5 854,863.7 857,851.9 860,840.2 863,828.5 866,816.9 869,805.3 872,793.7 875,782.3 878,770.9 881,759.6 884,748.4 887,737.3 890,726.4 893,715.5 896,704.8 899,694.2 902,683.8 905,673.6 908,663.5 911,653.6 914,643.8 917,634.3 920,624.9 923,615.7 926,606.8 929,598 932,589.5 935,581.1 938,573 941,565.1 944,557.5 947,550 950,542.8 953,535.9 956,529.1 959,522.6 962,516.4 965,510.4 968,504.6 971,499 974,493.7 977,488.7 980,483.9 983,479.3 986,474.9 989,470.8 992,466.9 995,463.3 998,459.8 1001,456.6 1004,453.6 1007,450.9 1010,448.3 1013,446 1016,443.9 1019,442 1022,440.3 1025,438.7 1028,437.4 1031,436.3 1034,435.4 1037,434.6 1040,434.1 1043,433.7 1046,433.5 1049,433.5 1052,433.6 1055,433.9 1058,434.4 1061,435 1064,435.7 1067,436.7 1070,437.7 1073,439 1076,440.3 1079,441.8 1082,443.5 1085,445.2 1088,447.1 1091,449.1 1094,451.3 1097,453.6 1100,455.9 1103,458.4 1106,461.1 1109,463.8 1112,466.6 1115,469.6 1118,472.6 1121,475.8 1124,479 1127,482.4 1130,485.8 1133,489.3 1136,493 1139,496.7 1142,500.5 1145,504.4 1148,508.4 1151,512.4 1154,516.5 1157,520.8 1160,525.1 1163,529.4 1166,533.9 1169,538.4 1172,543 1175,547.6 1178,552.4 1181,557.2 1184,562 1187,566.9 1190,571.9 1193,577 1196,582.1 1199,587.2 1202,592.4 1205,597.7 1208,603 1211,608.4 1214,613.8 1217,619.2 1220,624.7 1223,630.3 1226,635.9 1229,641.5 1232,647.2 1235,652.9 1238,658.6 1241,664.4 1244,670.2 1247,676 1250,681.9 1253,687.8 1256,693.7 1259,699.7 1262,705.6 1265,711.6 1268,717.7 1271,723.7 1274,729.7 1277,735.8 1280,741.9 1283,747.9 1286,754 1289,760.2 1292,766.3 1295,772.4 1298,778.5 1301,784.6 1304,790.8 1307,796.9 1310,803 1313,809.1 1316,815.3 1319,821.4 1322,827.5 1325,833.6 1328,839.7 1331,845.8 1334,851.8 1337,857.9 1340,864 1343,870 1346,876 1349,882 1352,888 1355,893.9 1358,899.9 1361,905.8 1364,911.7 1367,917.6 1370,923.4 1373,929.2 1376,935 1379,940.8 1382,946.6 1385,952.3 1388,958 1391,963.6 1394,969.2 1397,974.8 1400,980.4 1403,985.9 1406,991.4 1409,996.9 1412,1002.3 1415,1007.7 1418,1013.1 1421,1018.4 1424,1023.7 1427,1029 1430,1034.2 1433,1039.4 1436,1044.5 1439,1049.6 1442,1054.7 1445,1059.7 1448,1064.7 1451,1069.7 1454,1074.6 1457,1079.5 1460,1084.3 1463,1089.1 1466,1093.8 1469,1098.5 1472,1103.2 1475,1107.8 1478,1112.4 1481,1117 1484,1121.5 1487,1126 1490,1130.4 1493,1134.8 1496,1139.1 1499,1143.4 1502,1147.7 1505,1151.9 1508,1156 1511,1160.2 1514,1164.3 1517,1168.3 1520,1172.3 1523,1176.3 1526,1180.2 1529,1184.1 1532,1187.9 1535,1191.7 1538,1195.5 1541,1199.2 1544,1202.9 1547,1206.5 1550,1210.1 1553,1213.7 1556,1217.2 1559,1220.7 1562,1224.1 1565,1227.5 1568,1230.9 1571,1234.2 1574,1237.4 1577,1240.7 1580,1243.9 1583,1247 1586,1250.2 1589,1253.2 1592,1256.3 1595,1259.3 1598,1262.3 1601,1265.2 1604,1268.1 1607,1270.9 1610,1273.8 1613,1276.5 1616,1279.3 1619,1282 1622,1284.7 1625,1287.3 1628,1289.9 1631,1292.5 1634,1295 1637,1297.5 1640,1300 1643,1302.4 1646,1304.8 1649,1307.2 1652,1309.5 1655,1311.8 1658,1314.1 1661,1316.3 1664,1318.5 1667,1320.7 1670,1322.8 1673,1324.9 1676,1327 1679,1329 1682,1331.1 1685,1333.1 1688,1335 1691,1337 1694,1338.9 1697,1340.7 1700,1342.6 1703,1344.4 1706,1346.2 1709,1348 1712,1349.7 1715,1351.5 1718,1353.1 1721,1354.8 1724,1356.5 1727,1358.1 1730,1359.7 1733,1361.3 1736,1362.8 1739,1364.3 1742,1365.9 1745,1367.3 1748,1368.8 1751,1370.3 1754,1371.7 1757,1373.1 1760,1374.5 1763,1375.8 1766,1377.2 1769,1378.5 1772,1379.8 1775,1381.1 1778,1382.4 1781,1383.6 1784,1384.9 1787,1386.1 1790,1387.3 1793,1388.5 1796,1389.7 1799,1390.8 1802,1392 1805,1393.1 1808,1394.2 1811,1395.4 1814,1396.4 1817,1397.5 1820,1398.6 1823,1399.6 1826,1400.7 1829,1401.7 1832,1402.7 1835,1403.7 1838,1404.7 1841,1405.7 1844,1406.7 1847,1407.7 1850,1408.6 1853,1409.6 1856,1410.5 1859,1411.4 1862,1412.3 1865,1413.2 1868,1414.1 1871,1415 1874,1415.9 1877,1416.8 1880,1417.6 1883,1418.5 1886,1419.4 1889,1420.2 1892,1421 1895,1421.8 1898,1422.7 1901,1423.5 1904,1424.3 1907,1425.1 1910,1425.9 1913,1426.6 1916,1427.4 1919,1428.2 1922,1429 1925,1429.7 1928,1430.5 1931,1431.2 1934,1431.9 1937,1432.7 1940,1433.4 1943,1434.1 1946,1434.8 1949,1435.5 1952,1436.2 1955,1436.9 1958,1437.6 1961,1438.3 1964,1439 1967,1439.6 1970,1440.3 1973,1441 1976,1441.6 1979,1442.2 1982,1442.9 1985,1443.5 1988,1444.1 1991,1444.8 1994,1445.4 1997,1446 2000,1446.6 2003,1447.2 2006,1447.8 2009,1448.4 2012,1448.9 2015,1449.5 2018,1450.1 2021,1450.7 2024,1451.2 2027,1451.8 2030,1452.3 2033,1452.8 2036,1453.4 2039,1453.9 2042,1454.4 2045,1454.9 2048,1455.4 2051,1455.9 2054,1456.4 2057,1456.9 2060,1457.4 2063,1457.9 2066,1458.3 2069,1458.8 2072,1459.3 2075,1459.7 2078,1460.2 2081,1460.6 2084,1461 2087,1461.5 2090,1461.9 2093,1462.3 2096,1462.7 2099,1463.1 2102,1463.5 2105,1463.9 2108,1464.3 2111,1464.7 2114,1465.1 2117,1465.4 2120,1465.8 2123,1466.1 2126,1466.5 2129,1466.8 2132,1467.2 2135,1467.5 2138,1467.9 2141,1468.2 2144,1468.5 2147,1468.8 2150,1469.1 2153,1469.4 2156,1469.7 2159,1470 2162,1470.3 2165,1470.6 2168,1470.9 2171,1471.1 2174,1471.4 2177,1471.7 2180,1471.9 2183,1472.2 2186,1472.4 2189,1472.7 2192,1472.9 2195,1473.2 2198,1473.4 2201,1473.6 2204,1473.9 2207,1474.1 2210,1474.3 2213,1474.5 2216,1474.7 2219,1474.9 2222,1475.1 2225,1475.3 2228,1475.5 2231,1475.7 2234,1475.9 2237,1476 2240,1476.2 2243,1476.4 2246,1476.6 2249,1476.7 2252,1476.9 2255,1477 2258,1477.2 2261,1477.3 2264,1477.5 2267,1477.6 2270,1477.8 2273,1477.9 2276,1478.1 2279,1478.2 2282,1478.3 2285,1478.5 2288,1478.6 2291,1478.7 2294,1478.8 2297,1478.9 2300,1479.1 2303,1479.2 2306,1479.3 2309,1479.4 2312,1479.5 2315,1479.6 2318,1479.7 2321,1479.8 2324,1479.9 2327,1480 2330,1480.1 2333,1480.2 2336,1480.3 2339,1480.4 2342,1480.4 2343,1480.5"/>
<path stroke="#FF00FF" d="M464,1467L467,1468.7 470,1470.2 473,1471.5 476,1472.6 479,1473.5 482,1474.2 485,1474.9 488,1475.3 491,1475.7 494,1476 497,1476.2 500,1476.3 503,1476.3 506,1476.3 509,1476.1 512,1476 515,1475.7 518,1475.4 521,1475.1 524,1474.7 527,1474.3 530,1473.9 533,1473.4 536,1472.8 539,1472.2 542,1471.6 545,1471 548,1470.4 551,1469.7 554,1469 557,1468.1 560,1467.2 563,1466.2 566,1465.1 569,1464 572,1462.8 575,1461.5 578,1460.2 581,1458.8 584,1457.4 587,1455.9 590,1454.3 593,1452.8 596,1451.2 599,1449.6 602,1448 605,1446.3 608,1444.6 611,1442.9 614,1441.1 617,1439.2 620,1437.2 623,1435.2 626,1433.1 629,1430.9 632,1428.7 635,1426.4 638,1424 641,1421.4 644,1418.8 647,1416.1 650,1413.2 653,1410.3 656,1407.2 659,1404 662,1400.7 665,1397.3 668,1393.8 671,1390.1 674,1386.4 677,1382.5 680,1378.5 683,1374.3 686,1370 689,1365.6 692,1361.1 695,1356.4 698,1351.6 701,1346.7 704,1341.6 707,1336.4 710,1331.1 713,1325.6 716,1319.9 719,1314.2 722,1308.2 725,1302.2 728,1296 731,1289.6 734,1283.1 737,1276.5 740,1269.7 743,1262.8 746,1255.7 749,1248.5 752,1241.1 755,1233.6 758,1226 761,1218.2 764,1210.3 767,1202.3 770,1194.1 773,1185.8 776,1177.3 779,1168.8 782,1160.1 785,1151.2 788,1142.3 791,1133.2 794,1124.1 797,1114.8 800,1105.4 803,1095.9 806,1086.3 809,1076.6 812,1066.9 815,1057 818,1047.1 821,1037 824,1027 827,1016.8 830,1006.6 833,996.3 836,986 839,975.7 842,965.3 845,954.9 848,944.5 851,934 854,923.6 857,913.2 860,902.8 863,892.4 866,882 869,871.7 872,861.4 875,851.2 878,841.1 881,831 884,821 887,811.1 890,801.3 893,791.6 896,782 899,772.5 902,763.2 905,754 908,745 911,736.1 914,727.3 917,718.8 920,710.4 923,702.1 926,694.1 929,686.3 932,678.6 935,671.1 938,663.9 941,656.8 944,650 947,643.3 950,636.9 953,630.6 956,624.6 959,618.8 962,613.2 965,607.8 968,602.7 971,597.7 974,593 977,588.4 980,584.1 983,580 986,576.1 989,572.3 992,568.8 995,565.5 998,562.4 1001,559.4 1004,556.7 1007,554.1 1010,551.7 1013,549.5 1016,547.4 1019,545.6 1022,543.9 1025,542.3 1028,541 1031,539.8 1034,538.7 1037,537.8 1040,537.1 1043,536.5 1046,536 1049,535.7 1052,535.5 1055,535.5 1058,535.6 1061,535.8 1064,536.2 1067,536.7 1070,537.3 1073,538.1 1076,538.9 1079,539.9 1082,541 1085,542.3 1088,543.6 1091,545 1094,546.6 1097,548.3 1100,550.1 1103,552 1106,554 1109,556.1 1112,558.3 1115,560.6 1118,563 1121,565.5 1124,568.1 1127,570.8 1130,573.6 1133,576.5 1136,579.5 1139,582.6 1142,585.7 1145,589 1148,592.3 1151,595.7 1154,599.2 1157,602.8 1160,606.5 1163,610.2 1166,614 1169,617.9 1172,621.9 1175,625.9 1178,630 1181,634.2 1184,638.4 1187,642.7 1190,647.1 1193,651.5 1196,656 1199,660.5 1202,665.1 1205,669.8 1208,674.5 1211,679.3 1214,684.1 1217,688.9 1220,693.9 1223,698.8 1226,703.8 1229,708.9 1232,713.9 1235,719.1 1238,724.2 1241,729.4 1244,734.6 1247,739.9 1250,745.2 1253,750.5 1256,755.9 1259,761.2 1262,766.6 1265,772.1 1268,777.5 1271,783 1274,788.4 1277,794 1280,799.5 1283,805 1286,810.5 1289,816.1 1292,821.7 1295,827.2 1298,832.8 1301,838.4 1304,844 1307,849.6 1310,855.2 1313,860.8 1316,866.4 1319,872 1322,877.5 1325,883.1 1328,888.7 1331,894.3 1334,899.8 1337,905.4 1340,910.9 1343,916.5 1346,922 1349,927.5 1352,933 1355,938.5 1358,943.9 1361,949.4 1364,954.8 1367,960.2 1370,965.6 1373,970.9 1376,976.3 1379,981.6 1382,986.9 1385,992.1 1388,997.4 1391,1002.6 1394,1007.8 1397,1012.9 1400,1018 1403,1023.1 1406,1028.2 1409,1033.2 1412,1038.2 1415,1043.2 1418,1048.2 1421,1053.1 1424,1058 1427,1062.8 1430,1067.6 1433,1072.4 1436,1077.1 1439,1081.8 1442,1086.5 1445,1091.1 1448,1095.7 1451,1100.3 1454,1104.8 1457,1109.3 1460,1113.7 1463,1118.1 1466,1122.5 1469,1126.8 1472,1131.1 1475,1135.4 1478,1139.6 1481,1143.7 1484,1147.9 1487,1152 1490,1156 1493,1160.1 1496,1164 1499,1168 1502,1171.9 1505,1175.7 1508,1179.5 1511,1183.3 1514,1187.1 1517,1190.8 1520,1194.4 1523,1198.1 1526,1201.6 1529,1205.2 1532,1208.7 1535,1212.2 1538,1215.6 1541,1219 1544,1222.4 1547,1225.7 1550,1229 1553,1232.2 1556,1235.4 1559,1238.6 1562,1241.7 1565,1244.8 1568,1247.8 1571,1250.9 1574,1253.9 1577,1256.8 1580,1259.7 1583,1262.6 1586,1265.4 1589,1268.3 1592,1271 1595,1273.8 1598,1276.5 1601,1279.2 1604,1281.8 1607,1284.4 1610,1287 1613,1289.5 1616,1292 1619,1294.5 1622,1297 1625,1299.4 1628,1301.8 1631,1304.1 1634,1306.5 1637,1308.8 1640,1311 1643,1313.3 1646,1315.5 1649,1317.7 1652,1319.8 1655,1321.9 1658,1324 1661,1326.1 1664,1328.2 1667,1330.2 1670,1332.2 1673,1334.1 1676,1336.1 1679,1338 1682,1339.9 1685,1341.8 1688,1343.6 1691,1345.4 1694,1347.2 1697,1349 1700,1350.7 1703,1352.5 1706,1354.2 1709,1355.9 1712,1357.5 1715,1359.2 1718,1360.8 1721,1362.4 1724,1364 1727,1365.5 1730,1367 1733,1368.6 1736,1370.1 1739,1371.5 1742,1373 1745,1374.4 1748,1375.8 1751,1377.3 1754,1378.6 1757,1380 1760,1381.4 1763,1382.7 1766,1384 1769,1385.3 1772,1386.6 1775,1387.8 1778,1389.1 1781,1390.3 1784,1391.5 1787,1392.7 1790,1393.9 1793,1395.1 1796,1396.3 1799,1397.4 1802,1398.5 1805,1399.6 1808,1400.8 1811,1401.8 1814,1402.9 1817,1404 1820,1405 1823,1406.1 1826,1407.1 1829,1408.1 1832,1409.1 1835,1410.1 1838,1411 1841,1412 1844,1412.9 1847,1413.9 1850,1414.8 1853,1415.7 1856,1416.6 1859,1417.5 1862,1418.4 1865,1419.3 1868,1420.1 1871,1421 1874,1421.8 1877,1422.6 1880,1423.5 1883,1424.3 1886,1425.1 1889,1425.9 1892,1426.6 1895,1427.4 1898,1428.2 1901,1428.9 1904,1429.7 1907,1430.4 1910,1431.1 1913,1431.9 1916,1432.6 1919,1433.3 1922,1434 1925,1434.6 1928,1435.3 1931,1436 1934,1436.7 1937,1437.3 1940,1438 1943,1438.6 1946,1439.2 1949,1439.8 1952,1440.5 1955,1441.1 1958,1441.7 1961,1442.3 1964,1442.9 1967,1443.4 1970,1444 1973,1444.6 1976,1445.1 1979,1445.7 1982,1446.3 1985,1446.8 1988,1447.3 1991,1447.9 1994,1448.4 1997,1448.9 2000,1449.4 2003,1449.9 2006,1450.4 2009,1450.9 2012,1451.4 2015,1451.9 2018,1452.4 2021,1452.8 2024,1453.3 2027,1453.8 2030,1454.2 2033,1454.7 2036,1455.1 2039,1455.6 2042,1456 2045,1456.4 2048,1456.9 2051,1457.3 2054,1457.7 2057,1458.1 2060,1458.5 2063,1458.9 2066,1459.3 2069,1459.7 2072,1460.1 2075,1460.5 2078,1460.9 2081,1461.3 2084,1461.6 2087,1462 2090,1462.4 2093,1462.7 2096,1463.1 2099,1463.4 2102,1463.8 2105,1464.1 2108,1464.5 2111,1464.8 2114,1465.1 2117,1465.5 2120,1465.8 2123,1466.1 2126,1466.4 2129,1466.7 2132,1467.1 2135,1467.4 2138,1467.7 2141,1468 2144,1468.3 2147,1468.6 2150,1468.8 2153,1469.1 2156,1469.4 2159,1469.7 2162,1470 2165,1470.2 2168,1470.5 2171,1470.8 2174,1471 2177,1471.3 2180,1471.6 2183,1471.8 2186,1472.1 2189,1472.3 2192,1472.6 2195,1472.8 2198,1473 2201,1473.3 2204,1473.5 2207,1473.8 2210,1474 2213,1474.2 2216,1474.4 2219,1474.7 2222,1474.9 2225,1475.1 2228,1475.3 2231,1475.5 2234,1475.7 2237,1475.9 2240,1476.1 2243,1476.3 2246,1476.5 2249,1476.7 2252,1476.9 2255,1477.1 2258,1477.3 2261,1477.5 2264,1477.7 2267,1477.9 2270,1478.1 2273,1478.2 2276,1478.4 2279,1478.6 2282,1478.8 2285,1478.9 2288,1479.1 2291,1479.3 2294,1479.4 2297,1479.6 2300,1479.8 2303,1479.9 2306,1480.1 2309,1480.2 2312,1480.4 2315,1480.5 2318,1480.7 2321,1480.8 2324,1481 2327,1481.1 2330,1481.3 2333,1481.4 2336,1481.6 2339,1481.7 2342,1481.8 2343,1481.9"/>
<path stroke="#808000" d="M464,1468L467,1469.6 470,1471 473,1472.2 476,1473.2 479,1474 482,1474.7 485,1475.2 488,1475.7 491,1476 494,1476.2 497,1476.3 500,1476.4 503,1476.4 506,1476.3 509,1476.2 512,1476 515,1475.8 518,1475.5 521,1475.1 524,1474.7 527,1474.3 530,1473.9 533,1473.3 536,1472.8 539,1472.2 542,1471.6 545,1470.9 548,1470.2 551,1469.5 554,1468.8 557,1468 560,1467.1 563,1466.1 566,1465.1 569,1464 572,1462.8 575,1461.7 578,1460.4 581,1459.1 584,1457.7 587,1456.3 590,1454.9 593,1453.5 596,1452.1 599,1450.6 602,1449.2 605,1447.6 608,1446.1 611,1444.5 614,1442.8 617,1441.1 620,1439.4 623,1437.5 626,1435.7 629,1433.7 632,1431.7 635,1429.7 638,1427.5 641,1425.3 644,1423 647,1420.6 650,1418 653,1415.4 656,1412.6 659,1409.8 662,1406.9 665,1403.8 668,1400.7 671,1397.5 674,1394.1 677,1390.7 680,1387.1 683,1383.4 686,1379.6 689,1375.7 692,1371.7 695,1367.5 698,1363.2 701,1358.8 704,1354.3 707,1349.6 710,1344.8 713,1339.9 716,1334.9 719,1329.7 722,1324.4 725,1318.9 728,1313.3 731,1307.6 734,1301.7 737,1295.7 740,1289.6 743,1283.3 746,1276.9 749,1270.3 752,1263.6 755,1256.8 758,1249.8 761,1242.7 764,1235.4 767,1228 770,1220.5 773,1212.9 776,1205.1 779,1197.2 782,1189.2 785,1181.1 788,1172.8 791,1164.5 794,1156 797,1147.4 800,1138.8 803,1130 806,1121.2 809,1112.2 812,1103.2 815,1094.1 818,1085 821,1075.7 824,1066.4 827,1057.1 830,1047.7 833,1038.3 836,1028.9 839,1019.4 842,1009.9 845,1000.4 848,990.8 851,981.3 854,971.8 857,962.3 860,952.9 863,943.4 866,934 869,924.6 872,915.3 875,906.1 878,896.9 881,887.7 884,878.7 887,869.7 890,860.9 893,852.1 896,843.4 899,834.8 902,826.4 905,818 908,809.8 911,801.7 914,793.8 917,786 920,778.3 923,770.8 926,763.4 929,756.2 932,749.2 935,742.3 938,735.5 941,729 944,722.6 947,716.4 950,710.4 953,704.5 956,698.8 959,693.3 962,688 965,682.9 968,677.9 971,673.2 974,668.6 977,664.2 980,660 983,655.9 986,652.1 989,648.4 992,644.9 995,641.6 998,638.5 1001,635.6 1004,632.8 1007,630.2 1010,627.8 1013,625.6 1016,623.5 1019,621.6 1022,619.8 1025,618.2 1028,616.8 1031,615.6 1034,614.5 1037,613.5 1040,612.7 1043,612.1 1046,611.6 1049,611.2 1052,611 1055,610.9 1058,611 1061,611.2 1064,611.5 1067,612 1070,612.6 1073,613.3 1076,614.1 1079,615.1 1082,616.1 1085,617.3 1088,618.6 1091,620 1094,621.5 1097,623.2 1100,624.9 1103,626.7 1106,628.6 1109,630.7 1112,632.8 1115,635 1118,637.3 1121,639.7 1124,642.1 1127,644.7 1130,647.3 1133,650.1 1136,652.9 1139,655.8 1142,658.7 1145,661.8 1148,664.9 1151,668 1154,671.3 1157,674.6 1160,678 1163,681.5 1166,685 1169,688.6 1172,692.2 1175,695.9 1178,699.7 1181,703.5 1184,707.4 1187,711.3 1190,715.3 1193,719.3 1196,723.4 1199,727.5 1202,731.7 1205,736 1208,740.2 1211,744.6 1214,748.9 1217,753.3 1220,757.8 1223,762.3 1226,766.8 1229,771.3 1232,775.9 1235,780.6 1238,785.2 1241,789.9 1244,794.7 1247,799.4 1250,804.2 1253,809 1256,813.9 1259,818.7 1262,823.6 1265,828.5 1268,833.4 1271,838.4 1274,843.3 1277,848.3 1280,853.3 1283,858.3 1286,863.3 1289,868.4 1292,873.4 1295,878.5 1298,883.5 1301,888.6 1304,893.7 1307,898.8 1310,903.9 1313,908.9 1316,914 1319,919.1 1322,924.2 1325,929.3 1328,934.4 1331,939.4 1334,944.5 1337,949.6 1340,954.6 1343,959.7 1346,964.7 1349,969.8 1352,974.8 1355,979.8 1358,984.8 1361,989.7 1364,994.7 1367,999.7 1370,1004.6 1373,1009.5 1376,1014.4 1379,1019.3 1382,1024.1 1385,1029 1388,1033.8 1391,1038.6 1394,1043.3 1397,1048.1 1400,1052.8 1403,1057.5 1406,1062.1 1409,1066.8 1412,1071.4 1415,1076 1418,1080.6 1421,1085.1 1424,1089.6 1427,1094.1 1430,1098.5 1433,1102.9 1436,1107.3 1439,1111.7 1442,1116 1445,1120.3 1448,1124.5 1451,1128.8 1454,1133 1457,1137.1 1460,1141.2 1463,1145.3 1466,1149.4 1469,1153.4 1472,1157.4 1475,1161.4 1478,1165.3 1481,1169.2 1484,1173 1487,1176.8 1490,1180.6 1493,1184.4 1496,1188.1 1499,1191.8 1502,1195.4 1505,1199 1508,1202.6 1511,1206.1 1514,1209.6 1517,1213.1 1520,1216.5 1523,1219.9 1526,1223.3 1529,1226.6 1532,1229.9 1535,1233.1 1538,1236.3 1541,1239.5 1544,1242.7 1547,1245.8 1550,1248.8 1553,1251.9 1556,1254.9 1559,1257.9 1562,1260.8 1565,1263.7 1568,1266.6 1571,1269.4 1574,1272.2 1577,1274.9 1580,1277.7 1583,1280.4 1586,1283 1589,1285.6 1592,1288.2 1595,1290.8 1598,1293.3 1601,1295.8 1604,1298.3 1607,1300.7 1610,1303.1 1613,1305.5 1616,1307.8 1619,1310.1 1622,1312.4 1625,1314.6 1628,1316.8 1631,1319 1634,1321.1 1637,1323.2 1640,1325.3 1643,1327.4 1646,1329.4 1649,1331.4 1652,1333.3 1655,1335.3 1658,1337.2 1661,1339 1664,1340.9 1667,1342.7 1670,1344.5 1673,1346.3 1676,1348 1679,1349.7 1682,1351.4 1685,1353.1 1688,1354.7 1691,1356.3 1694,1357.9 1697,1359.5 1700,1361 1703,1362.5 1706,1364 1709,1365.5 1712,1367 1715,1368.4 1718,1369.8 1721,1371.2 1724,1372.5 1727,1373.9 1730,1375.2 1733,1376.5 1736,1377.8 1739,1379.1 1742,1380.3 1745,1381.5 1748,1382.8 1751,1384 1754,1385.1 1757,1386.3 1760,1387.5 1763,1388.6 1766,1389.7 1769,1390.8 1772,1391.9 1775,1393 1778,1394.1 1781,1395.1 1784,1396.2 1787,1397.2 1790,1398.2 1793,1399.2 1796,1400.2 1799,1401.2 1802,1402.2 1805,1403.2 1808,1404.1 1811,1405.1 1814,1406 1817,1406.9 1820,1407.9 1823,1408.8 1826,1409.7 1829,1410.6 1832,1411.5 1835,1412.4 1838,1413.3 1841,1414.1 1844,1415 1847,1415.9 1850,1416.7 1853,1417.6 1856,1418.4 1859,1419.3 1862,1420.1 1865,1420.9 1868,1421.7 1871,1422.6 1874,1423.4 1877,1424.2 1880,1425 1883,1425.8 1886,1426.5 1889,1427.3 1892,1428.1 1895,1428.9 1898,1429.6 1901,1430.4 1904,1431.2 1907,1431.9 1910,1432.6 1913,1433.4 1916,1434.1 1919,1434.8 1922,1435.6 1925,1436.3 1928,1437 1931,1437.7 1934,1438.4 1937,1439.1 1940,1439.8 1943,1440.4 1946,1441.1 1949,1441.8 1952,1442.4 1955,1443.1 1958,1443.7 1961,1444.4 1964,1445 1967,1445.6 1970,1446.2 1973,1446.9 1976,1447.5 1979,1448.1 1982,1448.7 1985,1449.2 1988,1449.8 1991,1450.4 1994,1450.9 1997,1451.5 2000,1452.1 2003,1452.6 2006,1453.1 2009,1453.7 2012,1454.2 2015,1454.7 2018,1455.2 2021,1455.7 2024,1456.2 2027,1456.7 2030,1457.2 2033,1457.6 2036,1458.1 2039,1458.6 2042,1459 2045,1459.5 2048,1459.9 2051,1460.3 2054,1460.7 2057,1461.2 2060,1461.6 2063,1462 2066,1462.4 2069,1462.8 2072,1463.2 2075,1463.5 2078,1463.9 2081,1464.3 2084,1464.6 2087,1465 2090,1465.4 2093,1465.7 2096,1466 2099,1466.4 2102,1466.7 2105,1467 2108,1467.3 2111,1467.6 2114,1468 2117,1468.3 2120,1468.6 2123,1468.8 2126,1469.1 2129,1469.4 2132,1469.7 2135,1470 2138,1470.2 2141,1470.5 2144,1470.8 2147,1471 2150,1471.3 2153,1471.5 2156,1471.8 2159,1472 2162,1472.2 2165,1472.5 2168,1472.7 2171,1472.9 2174,1473.1 2177,1473.4 2180,1473.6 2183,1473.8 2186,1474 2189,1474.2 2192,1474.4 2195,1474.6 2198,1474.8 2201,1475 2204,1475.2 2207,1475.3 2210,1475.5 2213,1475.7 2216,1475.9 2219,1476.1 2222,1476.2 2225,1476.4 2228,1476.6 2231,1476.7 2234,1476.9 2237,1477.1 2240,1477.2 2243,1477.4 2246,1477.5 2249,1477.7 2252,1477.8 2255,1478 2258,1478.1 2261,1478.2 2264,1478.4 2267,1478.5 2270,1478.7 2273,1478.8 2276,1478.9 2279,1479.1 2282,1479.2 2285,1479.3 2288,1479.4 2291,1479.6 2294,1479.7 2297,1479.8 2300,1479.9 2303,1480 2306,1480.1 2309,1480.2 2312,1480.4 2315,1480.5 2318,1480.6 2321,1480.7 2324,1480.8 2327,1480.9 2330,1481 2333,1481.1 2336,1481.2 2339,1481.3 2342,1481.4 2343,1481.4"/>
<path stroke="#000080" d="M464,1468L467,1470.1 470,1471.7 473,1473.1 476,1474.2 479,1475.1 482,1475.7 485,1476.2 488,1476.6 491,1476.8 494,1476.9 497,1476.9 500,1476.9 503,1476.8 506,1476.6 509,1476.4 512,1476.1 515,1475.7 518,1475.4 521,1475 524,1474.5 527,1474 530,1473.5 533,1473 536,1472.4 539,1471.7 542,1471 545,1470.4 548,1469.7 551,1468.9 554,1468.2 557,1467.4 560,1466.5 563,1465.6 566,1464.6 569,1463.7 572,1462.6 575,1461.6 578,1460.4 581,1459.3 584,1458.1 587,1456.9 590,1455.6 593,1454.4 596,1453.2 599,1451.9 602,1450.6 605,1449.3 608,1448 611,1446.6 614,1445.2 617,1443.7 620,1442.2 623,1440.6 626,1439 629,1437.3 632,1435.5 635,1433.7 638,1431.8 641,1429.8 644,1427.7 647,1425.5 650,1423.2 653,1420.8 656,1418.2 659,1415.6 662,1412.8 665,1410 668,1407 671,1404 674,1400.8 677,1397.5 680,1394.1 683,1390.5 686,1386.9 689,1383.1 692,1379.2 695,1375.2 698,1371 701,1366.8 704,1362.4 707,1357.9 710,1353.2 713,1348.5 716,1343.6 719,1338.7 722,1333.6 725,1328.3 728,1323 731,1317.6 734,1312 737,1306.3 740,1300.6 743,1294.7 746,1288.7 749,1282.6 752,1276.4 755,1270.1 758,1263.7 761,1257.2 764,1250.6 767,1243.9 770,1237.1 773,1230.2 776,1223.3 779,1216.2 782,1209.1 785,1201.9 788,1194.6 791,1187.2 794,1179.7 797,1172.2 800,1164.6 803,1156.9 806,1149.1 809,1141.3 812,1133.5 815,1125.5 818,1117.5 821,1109.5 824,1101.4 827,1093.3 830,1085.1 833,1076.9 836,1068.6 839,1060.4 842,1052.1 845,1043.8 848,1035.5 851,1027.1 854,1018.8 857,1010.5 860,1002.2 863,993.9 866,985.6 869,977.4 872,969.2 875,961.1 878,953 881,944.9 884,937 887,929 890,921.2 893,913.5 896,905.8 899,898.2 902,890.8 905,883.4 908,876.2 911,869 914,862 917,855.1 920,848.4 923,841.8 926,835.3 929,829 932,822.8 935,816.7 938,810.9 941,805.2 944,799.6 947,794.2 950,789 953,783.9 956,779 959,774.3 962,769.7 965,765.3 968,761.1 971,757.1 974,753.2 977,749.5 980,746 983,742.6 986,739.4 989,736.4 992,733.5 995,730.8 998,728.3 1001,725.9 1004,723.7 1007,721.6 1010,719.7 1013,718 1016,716.4 1019,714.9 1022,713.6 1025,712.5 1028,711.5 1031,710.6 1034,709.9 1037,709.3 1040,708.8 1043,708.4 1046,708.2 1049,708.1 1052,708.2 1055,708.3 1058,708.6 1061,709 1064,709.4 1067,710 1070,710.7 1073,711.5 1076,712.4 1079,713.5 1082,714.6 1085,715.8 1088,717 1091,718.4 1094,719.9 1097,721.4 1100,723.1 1103,724.8 1106,726.6 1109,728.5 1112,730.5 1115,732.5 1118,734.6 1121,736.8 1124,739.1 1127,741.4 1130,743.8 1133,746.2 1136,748.8 1139,751.4 1142,754 1145,756.7 1148,759.5 1151,762.3 1154,765.2 1157,768.2 1160,771.2 1163,774.3 1166,777.4 1169,780.6 1172,783.8 1175,787.1 1178,790.4 1181,793.8 1184,797.2 1187,800.7 1190,804.2 1193,807.8 1196,811.4 1199,815 1202,818.7 1205,822.5 1208,826.2 1211,830.1 1214,833.9 1217,837.8 1220,841.7 1223,845.7 1226,849.7 1229,853.7 1232,857.8 1235,861.9 1238,866 1241,870.2 1244,874.3 1247,878.5 1250,882.8 1253,887 1256,891.3 1259,895.6 1262,899.9 1265,904.3 1268,908.6 1271,913 1274,917.4 1277,921.8 1280,926.2 1283,930.6 1286,935.1 1289,939.6 1292,944 1295,948.5 1298,953 1301,957.5 1304,962 1307,966.5 1310,971 1313,975.5 1316,980 1319,984.5 1322,989 1325,993.5 1328,998 1331,1002.5 1334,1006.9 1337,1011.4 1340,1015.9 1343,1020.4 1346,1024.8 1349,1029.3 1352,1033.7 1355,1038.1 1358,1042.5 1361,1046.9 1364,1051.3 1367,1055.7 1370,1060 1373,1064.3 1376,1068.6 1379,1072.9 1382,1077.2 1385,1081.5 1388,1085.7 1391,1089.9 1394,1094.1 1397,1098.3 1400,1102.4 1403,1106.5 1406,1110.6 1409,1114.7 1412,1118.8 1415,1122.8 1418,1126.8 1421,1130.8 1424,1134.7 1427,1138.6 1430,1142.5 1433,1146.4 1436,1150.2 1439,1154 1442,1157.8 1445,1161.5 1448,1165.2 1451,1168.9 1454,1172.6 1457,1176.2 1460,1179.8 1463,1183.4 1466,1186.9 1469,1190.4 1472,1193.9 1475,1197.3 1478,1200.7 1481,1204.1 1484,1207.4 1487,1210.8 1490,1214 1493,1217.3 1496,1220.5 1499,1223.7 1502,1226.9 1505,1230 1508,1233.1 1511,1236.1 1514,1239.2 1517,1242.2 1520,1245.1 1523,1248.1 1526,1251 1529,1253.9 1532,1256.7 1535,1259.5 1538,1262.3 1541,1265.1 1544,1267.8 1547,1270.5 1550,1273.1 1553,1275.8 1556,1278.4 1559,1280.9 1562,1283.5 1565,1286 1568,1288.5 1571,1291 1574,1293.4 1577,1295.8 1580,1298.2 1583,1300.5 1586,1302.8 1589,1305.1 1592,1307.4 1595,1309.6 1598,1311.8 1601,1314 1604,1316.2 1607,1318.3 1610,1320.4 1613,1322.5 1616,1324.6 1619,1326.6 1622,1328.6 1625,1330.6 1628,1332.6 1631,1334.5 1634,1336.4 1637,1338.3 1640,1340.2 1643,1342 1646,1343.8 1649,1345.6 1652,1347.4 1655,1349.2 1658,1350.9 1661,1352.6 1664,1354.3 1667,1356 1670,1357.6 1673,1359.2 1676,1360.9 1679,1362.4 1682,1364 1685,1365.6 1688,1367.1 1691,1368.6 1694,1370.1 1697,1371.6 1700,1373 1703,1374.5 1706,1375.9 1709,1377.3 1712,1378.7 1715,1380 1718,1381.4 1721,1382.7 1724,1384 1727,1385.3 1730,1386.6 1733,1387.9 1736,1389.1 1739,1390.4 1742,1391.6 1745,1392.8 1748,1394 1751,1395.2 1754,1396.3 1757,1397.5 1760,1398.6 1763,1399.8 1766,1400.9 1769,1402 1772,1403 1775,1404.1 1778,1405.2 1781,1406.2 1784,1407.2 1787,1408.2 1790,1409.2 1793,1410.2 1796,1411.2 1799,1412.2 1802,1413.1 1805,1414.1 1808,1415 1811,1415.9 1814,1416.8 1817,1417.7 1820,1418.6 1823,1419.5 1826,1420.4 1829,1421.2 1832,1422.1 1835,1422.9 1838,1423.7 1841,1424.5 1844,1425.3 1847,1426.1 1850,1426.9 1853,1427.7 1856,1428.5 1859,1429.2 1862,1430 1865,1430.7 1868,1431.4 1871,1432.1 1874,1432.9 1877,1433.6 1880,1434.3 1883,1434.9 1886,1435.6 1889,1436.3 1892,1437 1895,1437.6 1898,1438.3 1901,1438.9 1904,1439.5 1907,1440.2 1910,1440.8 1913,1441.4 1916,1442 1919,1442.6 1922,1443.2 1925,1443.7 1928,1444.3 1931,1444.9 1934,1445.4 1937,1446 1940,1446.5 1943,1447.1 1946,1447.6 1949,1448.1 1952,1448.7 1955,1449.2 1958,1449.7 1961,1450.2 1964,1450.7 1967,1451.2 1970,1451.7 1973,1452.1 1976,1452.6 1979,1453.1 1982,1453.5 1985,1454 1988,1454.4 1991,1454.9 1994,1455.3 1997,1455.8 2000,1456.2 2003,1456.6 2006,1457 2009,1457.5 2012,1457.9 2015,1458.3 2018,1458.7 2021,1459.1 2024,1459.5 2027,1459.8 2030,1460.2 2033,1460.6 2036,1461 2039,1461.3 2042,1461.7 2045,1462.1 2048,1462.4 2051,1462.8 2054,1463.1 2057,1463.4 2060,1463.8 2063,1464.1 2066,1464.4 2069,1464.8 2072,1465.1 2075,1465.4 2078,1465.7 2081,1466 2084,1466.3 2087,1466.6 2090,1466.9 2093,1467.2 2096,1467.5 2099,1467.8 2102,1468.1 2105,1468.4 2108,1468.6 2111,1468.9 2114,1469.2 2117,1469.5 2120,1469.7 2123,1470 2126,1470.2 2129,1470.5 2132,1470.7 2135,1471 2138,1471.2 2141,1471.5 2144,1471.7 2147,1471.9 2150,1472.2 2153,1472.4 2156,1472.6 2159,1472.9 2162,1473.1 2165,1473.3 2168,1473.5 2171,1473.7 2174,1473.9 2177,1474.1 2180,1474.4 2183,1474.6 2186,1474.8 2189,1475 2192,1475.1 2195,1475.3 2198,1475.5 2201,1475.7 2204,1475.9 2207,1476.1 2210,1476.3 2213,1476.4 2216,1476.6 2219,1476.8 2222,1477 2225,1477.1 2228,1477.3 2231,1477.5 2234,1477.6 2237,1477.8 2240,1478 2243,1478.1 2246,1478.3 2249,1478.4 2252,1478.6 2255,1478.7 2258,1478.9 2261,1479 2264,1479.2 2267,1479.3 2270,1479.4 2273,1479.6 2276,1479.7 2279,1479.9 2282,1480 2285,1480.1 2288,1480.2 2291,1480.4 2294,1480.5 2297,1480.6 2300,1480.7 2303,1480.9 2306,1481 2309,1481.1 2312,1481.2 2315,1481.3 2318,1481.5 2321,1481.6 2324,1481.7 2327,1481.8 2330,1481.9 2333,1482 2336,1482.1 2339,1482.2 2342,1482.3 2343,1482.3"/>
<path stroke="#990000" d="M464,1469L467,1470.6 470,1471.9 473,1473 476,1473.9 479,1474.7 482,1475.3 485,1475.7 488,1476.1 491,1476.3 494,1476.5 497,1476.6 500,1476.6 503,1476.5 506,1476.4 509,1476.3 512,1476 515,1475.8 518,1475.5 521,1475.2 524,1474.8 527,1474.3 530,1473.8 533,1473.3 536,1472.7 539,1472.1 542,1471.5 545,1470.8 548,1470.1 551,1469.3 554,1468.6 557,1467.8 560,1467 563,1466.1 566,1465.2 569,1464.3 572,1463.4 575,1462.4 578,1461.3 581,1460.3 584,1459.2 587,1458.1 590,1457 593,1455.9 596,1454.8 599,1453.7 602,1452.6 605,1451.4 608,1450.2 611,1449 614,1447.8 617,1446.5 620,1445.2 623,1443.8 626,1442.3 629,1440.9 632,1439.4 635,1437.8 638,1436.2 641,1434.5 644,1432.7 647,1430.8 650,1428.8 653,1426.7 656,1424.5 659,1422.2 662,1419.8 665,1417.4 668,1414.8 671,1412.2 674,1409.4 677,1406.5 680,1403.6 683,1400.5 686,1397.4 689,1394.1 692,1390.7 695,1387.2 698,1383.6 701,1379.9 704,1376.1 707,1372.2 710,1368.1 713,1364 716,1359.7 719,1355.4 722,1350.9 725,1346.3 728,1341.6 731,1336.8 734,1331.9 737,1326.9 740,1321.8 743,1316.6 746,1311.3 749,1305.9 752,1300.3 755,1294.7 758,1289 761,1283.2 764,1277.2 767,1271.2 770,1265.1 773,1258.9 776,1252.6 779,1246.2 782,1239.8 785,1233.2 788,1226.6 791,1219.9 794,1213.1 797,1206.3 800,1199.3 803,1192.4 806,1185.3 809,1178.2 812,1171 815,1163.8 818,1156.5 821,1149.1 824,1141.8 827,1134.3 830,1126.9 833,1119.4 836,1111.9 839,1104.4 842,1096.8 845,1089.2 848,1081.7 851,1074.1 854,1066.5 857,1059 860,1051.4 863,1043.9 866,1036.4 869,1028.9 872,1021.5 875,1014.1 878,1006.8 881,999.5 884,992.3 887,985.1 890,978 893,971 896,964.1 899,957.2 902,950.5 905,943.8 908,937.3 911,930.8 914,924.5 917,918.2 920,912.1 923,906.1 926,900.3 929,894.5 932,888.9 935,883.5 938,878.1 941,873 944,867.9 947,863 950,858.2 953,853.6 956,849.2 959,844.9 962,840.7 965,836.7 968,832.8 971,829.1 974,825.6 977,822.2 980,818.9 983,815.8 986,812.9 989,810.1 992,807.4 995,804.9 998,802.6 1001,800.4 1004,798.3 1007,796.4 1010,794.6 1013,792.9 1016,791.4 1019,790 1022,788.8 1025,787.7 1028,786.7 1031,785.8 1034,785.1 1037,784.5 1040,784 1043,783.6 1046,783.3 1049,783.2 1052,783.1 1055,783.2 1058,783.4 1061,783.7 1064,784 1067,784.5 1070,785.1 1073,785.8 1076,786.5 1079,787.4 1082,788.3 1085,789.3 1088,790.5 1091,791.7 1094,792.9 1097,794.3 1100,795.7 1103,797.2 1106,798.8 1109,800.5 1112,802.2 1115,804 1118,805.9 1121,807.8 1124,809.8 1127,811.9 1130,814 1133,816.2 1136,818.4 1139,820.7 1142,823.1 1145,825.5 1148,828 1151,830.5 1154,833.1 1157,835.7 1160,838.4 1163,841.2 1166,843.9 1169,846.8 1172,849.7 1175,852.6 1178,855.6 1181,858.6 1184,861.6 1187,864.7 1190,867.9 1193,871.1 1196,874.3 1199,877.5 1202,880.8 1205,884.2 1208,887.5 1211,891 1214,894.4 1217,897.9 1220,901.4 1223,904.9 1226,908.5 1229,912.1 1232,915.7 1235,919.4 1238,923.1 1241,926.8 1244,930.5 1247,934.3 1250,938.1 1253,941.9 1256,945.7 1259,949.5 1262,953.4 1265,957.3 1268,961.2 1271,965.1 1274,969.1 1277,973 1280,977 1283,980.9 1286,984.9 1289,988.9 1292,992.9 1295,997 1298,1001 1301,1005 1304,1009.1 1307,1013.1 1310,1017.2 1313,1021.2 1316,1025.3 1319,1029.3 1322,1033.4 1325,1037.4 1328,1041.5 1331,1045.5 1334,1049.6 1337,1053.6 1340,1057.6 1343,1061.7 1346,1065.7 1349,1069.7 1352,1073.7 1355,1077.7 1358,1081.7 1361,1085.7 1364,1089.6 1367,1093.6 1370,1097.5 1373,1101.4 1376,1105.3 1379,1109.2 1382,1113.1 1385,1117 1388,1120.8 1391,1124.6 1394,1128.4 1397,1132.2 1400,1136 1403,1139.7 1406,1143.4 1409,1147.1 1412,1150.8 1415,1154.5 1418,1158.1 1421,1161.7 1424,1165.3 1427,1168.9 1430,1172.4 1433,1175.9 1436,1179.4 1439,1182.9 1442,1186.3 1445,1189.7 1448,1193.1 1451,1196.5 1454,1199.8 1457,1203.1 1460,1206.4 1463,1209.6 1466,1212.9 1469,1216.1 1472,1219.2 1475,1222.4 1478,1225.5 1481,1228.6 1484,1231.6 1487,1234.6 1490,1237.6 1493,1240.6 1496,1243.5 1499,1246.4 1502,1249.3 1505,1252.2 1508,1255 1511,1257.8 1514,1260.6 1517,1263.3 1520,1266 1523,1268.7 1526,1271.3 1529,1274 1532,1276.6 1535,1279.1 1538,1281.7 1541,1284.2 1544,1286.7 1547,1289.1 1550,1291.6 1553,1294 1556,1296.3 1559,1298.7 1562,1301 1565,1303.3 1568,1305.6 1571,1307.8 1574,1310 1577,1312.2 1580,1314.4 1583,1316.5 1586,1318.6 1589,1320.7 1592,1322.8 1595,1324.8 1598,1326.8 1601,1328.8 1604,1330.8 1607,1332.7 1610,1334.6 1613,1336.5 1616,1338.4 1619,1340.2 1622,1342.1 1625,1343.9 1628,1345.7 1631,1347.4 1634,1349.1 1637,1350.9 1640,1352.6 1643,1354.2 1646,1355.9 1649,1357.5 1652,1359.1 1655,1360.7 1658,1362.3 1661,1363.8 1664,1365.4 1667,1366.9 1670,1368.4 1673,1369.8 1676,1371.3 1679,1372.7 1682,1374.2 1685,1375.6 1688,1376.9 1691,1378.3 1694,1379.7 1697,1381 1700,1382.3 1703,1383.6 1706,1384.9 1709,1386.2 1712,1387.4 1715,1388.6 1718,1389.9 1721,1391.1 1724,1392.3 1727,1393.4 1730,1394.6 1733,1395.7 1736,1396.9 1739,1398 1742,1399.1 1745,1400.2 1748,1401.2 1751,1402.3 1754,1403.4 1757,1404.4 1760,1405.4 1763,1406.4 1766,1407.4 1769,1408.4 1772,1409.4 1775,1410.3 1778,1411.3 1781,1412.2 1784,1413.2 1787,1414.1 1790,1415 1793,1415.9 1796,1416.8 1799,1417.6 1802,1418.5 1805,1419.3 1808,1420.2 1811,1421 1814,1421.8 1817,1422.6 1820,1423.4 1823,1424.2 1826,1425 1829,1425.8 1832,1426.6 1835,1427.3 1838,1428.1 1841,1428.8 1844,1429.5 1847,1430.2 1850,1431 1853,1431.7 1856,1432.3 1859,1433 1862,1433.7 1865,1434.4 1868,1435 1871,1435.7 1874,1436.3 1877,1437 1880,1437.6 1883,1438.2 1886,1438.9 1889,1439.5 1892,1440.1 1895,1440.7 1898,1441.3 1901,1441.8 1904,1442.4 1907,1443 1910,1443.5 1913,1444.1 1916,1444.6 1919,1445.2 1922,1445.7 1925,1446.3 1928,1446.8 1931,1447.3 1934,1447.8 1937,1448.3 1940,1448.8 1943,1449.3 1946,1449.8 1949,1450.3 1952,1450.8 1955,1451.2 1958,1451.7 1961,1452.2 1964,1452.6 1967,1453.1 1970,1453.5 1973,1454 1976,1454.4 1979,1454.8 1982,1455.3 1985,1455.7 1988,1456.1 1991,1456.5 1994,1456.9 1997,1457.3 2000,1457.7 2003,1458.1 2006,1458.5 2009,1458.9 2012,1459.3 2015,1459.7 2018,1460 2021,1460.4 2024,1460.8 2027,1461.1 2030,1461.5 2033,1461.8 2036,1462.2 2039,1462.5 2042,1462.9 2045,1463.2 2048,1463.5 2051,1463.9 2054,1464.2 2057,1464.5 2060,1464.8 2063,1465.2 2066,1465.5 2069,1465.8 2072,1466.1 2075,1466.4 2078,1466.7 2081,1467 2084,1467.3 2087,1467.6 2090,1467.8 2093,1468.1 2096,1468.4 2099,1468.7 2102,1469 2105,1469.2 2108,1469.5 2111,1469.7 2114,1470 2117,1470.3 2120,1470.5 2123,1470.8 2126,1471 2129,1471.3 2132,1471.5 2135,1471.8 2138,1472 2141,1472.2 2144,1472.5 2147,1472.7 2150,1472.9 2153,1473.1 2156,1473.4 2159,1473.6 2162,1473.8 2165,1474 2168,1474.2 2171,1474.4 2174,1474.6 2177,1474.8 2180,1475 2183,1475.2 2186,1475.4 2189,1475.6 2192,1475.8 2195,1476 2198,1476.2 2201,1476.4 2204,1476.6 2207,1476.8 2210,1476.9 2213,1477.1 2216,1477.3 2219,1477.5 2222,1477.6 2225,1477.8 2228,1478 2231,1478.1 2234,1478.3 2237,1478.5 2240,1478.6 2243,1478.8 2246,1479 2249,1479.1 2252,1479.3 2255,1479.4 2258,1479.6 2261,1479.7 2264,1479.9 2267,1480 2270,1480.1 2273,1480.3 2276,1480.4 2279,1480.6 2282,1480.7 2285,1480.8 2288,1481 2291,1481.1 2294,1481.2 2297,1481.4 2300,1481.5 2303,1481.6 2306,1481.7 2309,1481.9 2312,1482 2315,1482.1 2318,1482.2 2321,1482.3 2324,1482.4 2327,1482.6 2330,1482.7 2333,1482.8 2336,1482.9 2339,1483 2342,1483.1 2343,1483.1"/>
<path stroke="#9900FF" d="M464,1471.1L467,1471.7 470,1472.3 473,1472.8 476,1473.2 479,1473.6 482,1474 485,1474.3 488,1474.6 491,1474.8 494,1475 497,1475.2 500,1475.3 503,1475.4 506,1475.4 509,1475.5 512,1475.5 515,1475.4 518,1475.3 521,1475.2 524,1475.1 527,1474.8 530,1474.6 533,1474.2 536,1473.9 539,1473.5 542,1473 545,1472.5 548,1472 551,1471.4 554,1470.8 557,1470.2 560,1469.5 563,1468.8 566,1468.1 569,1467.4 572,1466.6 575,1465.8 578,1465 581,1464.1 584,1463.2 587,1462.2 590,1461.3 593,1460.4 596,1459.4 599,1458.5 602,1457.5 605,1456.5 608,1455.5 611,1454.4 614,1453.3 617,1452.2 620,1451 623,1449.8 626,1448.5 629,1447.2 632,1445.9 635,1444.5 638,1443 641,1441.5 644,1439.9 647,1438.2 650,1436.4 653,1434.5 656,1432.5 659,1430.5 662,1428.3 665,1426.1 668,1423.8 671,1421.5 674,1419 677,1416.5 680,1413.9 683,1411.1 686,1408.3 689,1405.4 692,1402.5 695,1399.4 698,1396.2 701,1393 704,1389.6 707,1386.2 710,1382.7 713,1379.1 716,1375.4 719,1371.6 722,1367.7 725,1363.7 728,1359.6 731,1355.4 734,1351.1 737,1346.8 740,1342.3 743,1337.8 746,1333.1 749,1328.4 752,1323.5 755,1318.6 758,1313.6 761,1308.5 764,1303.3 767,1298 770,1292.7 773,1287.2 776,1281.7 779,1276.1 782,1270.4 785,1264.7 788,1258.8 791,1252.9 794,1247 797,1240.9 800,1234.8 803,1228.7 806,1222.4 809,1216.2 812,1209.9 815,1203.5 818,1197.1 821,1190.6 824,1184.2 827,1177.7 830,1171.1 833,1164.5 836,1158 839,1151.4 842,1144.7 845,1138.1 848,1131.5 851,1124.9 854,1118.3 857,1111.6 860,1105 863,1098.5 866,1091.9 869,1085.4 872,1078.9 875,1072.4 878,1066 881,1059.6 884,1053.3 887,1047 890,1040.8 893,1034.7 896,1028.6 899,1022.6 902,1016.6 905,1010.8 908,1005 911,999.3 914,993.7 917,988.1 920,982.7 923,977.4 926,972.1 929,967 932,962 935,957.1 938,952.3 941,947.6 944,943.1 947,938.6 950,934.3 953,930.1 956,926 959,922 962,918.2 965,914.5 968,910.9 971,907.5 974,904.2 977,901 980,897.9 983,895 986,892.2 989,889.5 992,887 995,884.6 998,882.3 1001,880.1 1004,878.1 1007,876.2 1010,874.4 1013,872.8 1016,871.2 1019,869.8 1022,868.5 1025,867.3 1028,866.2 1031,865.2 1034,864.4 1037,863.6 1040,863 1043,862.4 1046,862 1049,861.6 1052,861.3 1055,861.2 1058,861.1 1061,861.1 1064,861.2 1067,861.4 1070,861.7 1073,862 1076,862.4 1079,862.9 1082,863.5 1085,864.2 1088,864.9 1091,865.7 1094,866.5 1097,867.4 1100,868.4 1103,869.5 1106,870.6 1109,871.7 1112,873 1115,874.2 1118,875.6 1121,877 1124,878.5 1127,880 1130,881.6 1133,883.2 1136,884.9 1139,886.6 1142,888.4 1145,890.3 1148,892.2 1151,894.1 1154,896.1 1157,898.2 1160,900.3 1163,902.5 1166,904.8 1169,907 1172,909.4 1175,911.8 1178,914.2 1181,916.7 1184,919.3 1187,921.9 1190,924.5 1193,927.2 1196,930 1199,932.8 1202,935.6 1205,938.5 1208,941.5 1211,944.5 1214,947.5 1217,950.6 1220,953.7 1223,956.9 1226,960.1 1229,963.3 1232,966.6 1235,969.9 1238,973.2 1241,976.6 1244,980 1247,983.4 1250,986.8 1253,990.3 1256,993.8 1259,997.3 1262,1000.9 1265,1004.4 1268,1008 1271,1011.6 1274,1015.2 1277,1018.8 1280,1022.4 1283,1026 1286,1029.7 1289,1033.3 1292,1036.9 1295,1040.6 1298,1044.2 1301,1047.9 1304,1051.5 1307,1055.2 1310,1058.8 1313,1062.4 1316,1066 1319,1069.7 1322,1073.3 1325,1076.9 1328,1080.5 1331,1084.1 1334,1087.7 1337,1091.2 1340,1094.8 1343,1098.3 1346,1101.9 1349,1105.4 1352,1108.9 1355,1112.4 1358,1115.9 1361,1119.3 1364,1122.8 1367,1126.3 1370,1129.7 1373,1133.1 1376,1136.5 1379,1139.9 1382,1143.3 1385,1146.6 1388,1150 1391,1153.3 1394,1156.6 1397,1159.9 1400,1163.2 1403,1166.5 1406,1169.7 1409,1173 1412,1176.2 1415,1179.4 1418,1182.6 1421,1185.8 1424,1188.9 1427,1192.1 1430,1195.2 1433,1198.3 1436,1201.4 1439,1204.5 1442,1207.5 1445,1210.6 1448,1213.6 1451,1216.6 1454,1219.6 1457,1222.6 1460,1225.5 1463,1228.5 1466,1231.4 1469,1234.3 1472,1237.2 1475,1240 1478,1242.9 1481,1245.7 1484,1248.5 1487,1251.3 1490,1254 1493,1256.8 1496,1259.5 1499,1262.2 1502,1264.9 1505,1267.5 1508,1270.2 1511,1272.8 1514,1275.4 1517,1277.9 1520,1280.5 1523,1283 1526,1285.5 1529,1288 1532,1290.4 1535,1292.9 1538,1295.3 1541,1297.7 1544,1300 1547,1302.4 1550,1304.7 1553,1307 1556,1309.3 1559,1311.5 1562,1313.7 1565,1315.9 1568,1318.1 1571,1320.3 1574,1322.4 1577,1324.5 1580,1326.6 1583,1328.6 1586,1330.7 1589,1332.7 1592,1334.7 1595,1336.6 1598,1338.6 1601,1340.5 1604,1342.4 1607,1344.3 1610,1346.1 1613,1347.9 1616,1349.7 1619,1351.5 1622,1353.3 1625,1355 1628,1356.7 1631,1358.4 1634,1360.1 1637,1361.8 1640,1363.4 1643,1365 1646,1366.6 1649,1368.1 1652,1369.7 1655,1371.2 1658,1372.7 1661,1374.2 1664,1375.7 1667,1377.1 1670,1378.5 1673,1379.9 1676,1381.3 1679,1382.7 1682,1384 1685,1385.3 1688,1386.7 1691,1388 1694,1389.2 1697,1390.5 1700,1391.7 1703,1392.9 1706,1394.1 1709,1395.3 1712,1396.5 1715,1397.7 1718,1398.8 1721,1399.9 1724,1401 1727,1402.1 1730,1403.2 1733,1404.3 1736,1405.3 1739,1406.3 1742,1407.4 1745,1408.4 1748,1409.4 1751,1410.3 1754,1411.3 1757,1412.3 1760,1413.2 1763,1414.1 1766,1415 1769,1415.9 1772,1416.8 1775,1417.7 1778,1418.5 1781,1419.4 1784,1420.2 1787,1421.1 1790,1421.9 1793,1422.7 1796,1423.5 1799,1424.3 1802,1425 1805,1425.8 1808,1426.6 1811,1427.3 1814,1428 1817,1428.8 1820,1429.5 1823,1430.2 1826,1430.9 1829,1431.6 1832,1432.3 1835,1432.9 1838,1433.6 1841,1434.2 1844,1434.9 1847,1435.5 1850,1436.2 1853,1436.8 1856,1437.4 1859,1438 1862,1438.6 1865,1439.2 1868,1439.8 1871,1440.3 1874,1440.9 1877,1441.5 1880,1442 1883,1442.6 1886,1443.1 1889,1443.7 1892,1444.2 1895,1444.7 1898,1445.2 1901,1445.8 1904,1446.3 1907,1446.8 1910,1447.3 1913,1447.7 1916,1448.2 1919,1448.7 1922,1449.2 1925,1449.6 1928,1450.1 1931,1450.6 1934,1451 1937,1451.5 1940,1451.9 1943,1452.3 1946,1452.8 1949,1453.2 1952,1453.6 1955,1454 1958,1454.4 1961,1454.8 1964,1455.2 1967,1455.6 1970,1456 1973,1456.4 1976,1456.8 1979,1457.2 1982,1457.6 1985,1458 1988,1458.3 1991,1458.7 1994,1459 1997,1459.4 2000,1459.8 2003,1460.1 2006,1460.5 2009,1460.8 2012,1461.1 2015,1461.5 2018,1461.8 2021,1462.1 2024,1462.5 2027,1462.8 2030,1463.1 2033,1463.4 2036,1463.7 2039,1464 2042,1464.3 2045,1464.6 2048,1464.9 2051,1465.2 2054,1465.5 2057,1465.8 2060,1466.1 2063,1466.4 2066,1466.7 2069,1466.9 2072,1467.2 2075,1467.5 2078,1467.8 2081,1468 2084,1468.3 2087,1468.6 2090,1468.8 2093,1469.1 2096,1469.3 2099,1469.6 2102,1469.8 2105,1470.1 2108,1470.3 2111,1470.5 2114,1470.8 2117,1471 2120,1471.2 2123,1471.5 2126,1471.7 2129,1471.9 2132,1472.2 2135,1472.4 2138,1472.6 2141,1472.8 2144,1473 2147,1473.2 2150,1473.4 2153,1473.7 2156,1473.9 2159,1474.1 2162,1474.3 2165,1474.5 2168,1474.7 2171,1474.8 2174,1475 2177,1475.2 2180,1475.4 2183,1475.6 2186,1475.8 2189,1476 2192,1476.2 2195,1476.3 2198,1476.5 2201,1476.7 2204,1476.9 2207,1477 2210,1477.2 2213,1477.4 2216,1477.5 2219,1477.7 2222,1477.9 2225,1478 2228,1478.2 2231,1478.3 2234,1478.5 2237,1478.6 2240,1478.8 2243,1478.9 2246,1479.1 2249,1479.2 2252,1479.4 2255,1479.5 2258,1479.7 2261,1479.8 2264,1479.9 2267,1480.1 2270,1480.2 2273,1480.4 2276,1480.5 2279,1480.6 2282,1480.7 2285,1480.9 2288,1481 2291,1481.1 2294,1481.3 2297,1481.4 2300,1481.5 2303,1481.6 2306,1481.7 2309,1481.9 2312,1482 2315,1482.1 2318,1482.2 2321,1482.3 2324,1482.4 2327,1482.5 2330,1482.6 2333,1482.8 2336,1482.9 2339,1483 2342,1483.1 2343,1483.1"/>
</g>
<g class="tk">
<text transform="translate(328.4,1512) scale(1,1.085)">0</text>
<text transform="translate(236.4,1227.1) scale(1,1.085)">200</text>
<text transform="translate(236.4,942.2) scale(1,1.085)">400</text>
<text transform="translate(236.4,657.3) scale(1,1.085)">600</text>
<text transform="translate(236.4,372.4) scale(1,1.085)">800</text>
<text transform="translate(190.4,87.5) scale(1,1.085)"><tspan x="3.6">1</tspan><tspan x="46.0">000</tspan></text>
<text transform="translate(540.6,1615.5) scale(1,1.085)">500</text>
<text transform="translate(831.5,1615.5) scale(1,1.085)">550</text>
<text transform="translate(1122.4,1615.5) scale(1,1.085)">600</text>
<text transform="translate(1413.3,1615.5) scale(1,1.085)">650</text>
<text transform="translate(1704.3,1615.5) scale(1,1.085)">700</text>
<text transform="translate(1995.2,1615.5) scale(1,1.085)">750</text>
<text transform="translate(2286.1,1615.5) scale(1,1.085)">800</text>
</g>
<path d="M198,79.7h16v9.2h-16zM221,79.7h15.6v9.2h-15.6z" fill="#fff"/>
<g class="ttl">
<text y="1751"><tspan x="936.6" style="letter-spacing:-0.9px">Wavelength </tspan><tspan x="1547.4" style="letter-spacing:-1.2px">(nm)</tspan></text>
<text transform="translate(115.5,0) rotate(-90)"><tspan x="-1185.3" style="letter-spacing:2.7px">PL </tspan><tspan x="-1008.4" style="letter-spacing:0.34px">Intensity </tspan><tspan x="-541.2" style="letter-spacing:0.22px">(a.u.)</tspan></text>
</g>
<path d="M1849,158.5V962" stroke="#000" stroke-width="12" stroke-linecap="round" fill="none"/>
<path d="M1836.1,960.9H1862.1L1849,1014Z" fill="#000" stroke="#000" stroke-width="12" stroke-linejoin="round"/>
<g stroke-width="12" stroke-linecap="round" fill="none">
<path stroke="#000000" d="M1929.2,170H2087"/>
<path stroke="#FF0000" d="M1929.2,272.2H2087"/>
<path stroke="#0000FF" d="M1929.2,374.4H2087"/>
<path stroke="#008080" d="M1929.2,476.6H2087"/>
<path stroke="#FF00FF" d="M1929.2,578.8H2087"/>
<path stroke="#808000" d="M1929.2,681H2087"/>
<path stroke="#000080" d="M1929.2,783.2H2087"/>
<path stroke="#990000" d="M1929.2,885.4H2087"/>
<path stroke="#9900FF" d="M1929.2,987.6H2087"/>
</g>
<g class="lg">
<text x="2104.8" y="192.6">20 <tspan class="sup" x="2193.5" dy="-37">o</tspan><tspan x="2214.4" dy="37">C</tspan></text>
<text x="2104.8" y="294.8">40 <tspan class="sup" x="2193.5" dy="-37">o</tspan><tspan x="2214.4" dy="37">C</tspan></text>
<text x="2104.8" y="397">60 <tspan class="sup" x="2193.5" dy="-37">o</tspan><tspan x="2214.4" dy="37">C</tspan></text>
<text x="2104.8" y="499.2">80 <tspan class="sup" x="2193.5" dy="-37">o</tspan><tspan x="2214.4" dy="37">C</tspan></text>
<text x="2104.8" y="601.4">100 <tspan class="sup" x="2228.4" dy="-37">o</tspan><tspan x="2249.4" dy="37">C</tspan></text>
<text x="2104.8" y="703.6">120 <tspan class="sup" x="2230.1" dy="-37">o</tspan><tspan x="2251.1" dy="37">C</tspan></text>
<text x="2104.8" y="805.8">140 <tspan class="sup" x="2228.4" dy="-37">o</tspan><tspan x="2249.4" dy="37">C</tspan></text>
<text x="2104.8" y="908">160 <tspan class="sup" x="2228.4" dy="-37">o</tspan><tspan x="2249.4" dy="37">C</tspan></text>
<text x="2104.8" y="1010.2">180 <tspan class="sup" x="2228.4" dy="-37">o</tspan><tspan x="2249.4" dy="37">C</tspan></text>
</g>
</svg></body></html>
